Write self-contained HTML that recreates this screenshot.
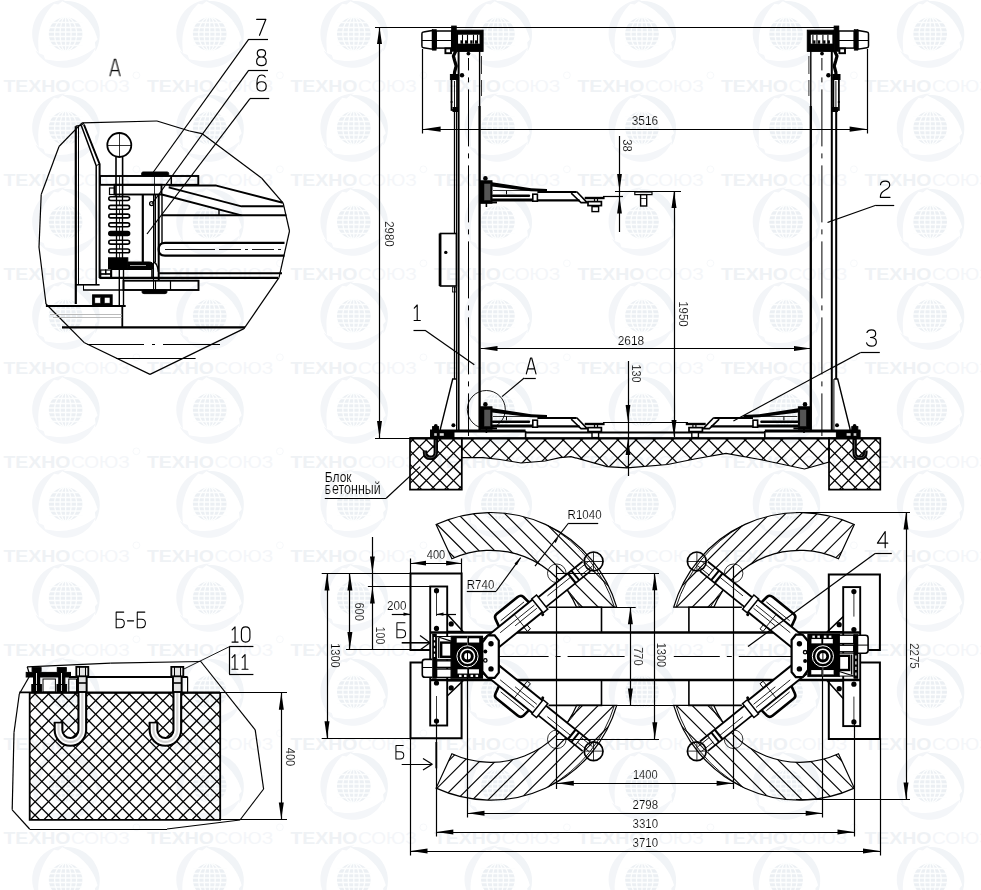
<!DOCTYPE html>
<html><head><meta charset="utf-8"><title>drawing</title>
<style>html,body{margin:0;padding:0;background:#fff;}svg{display:block;}text{font-family:"Liberation Sans",sans-serif;}</style>
</head><body>
<svg width="981" height="890" viewBox="0 0 981 890" font-family="Liberation Sans, sans-serif" fill="#000" shape-rendering="geometricPrecision">
<rect width="981" height="890" fill="#fff"/>
<g id="wm">
<defs><g id="gl">
<path d="M-2.9 -32.9 L1.1 -33.1 L5.1 -32.8 L9.1 -32.0 L12.9 -30.7 L16.6 -29.0 L20.0 -26.9 L23.2 -24.3 L26.0 -21.4 L28.5 -18.1 L30.5 -14.6 L32.1 -10.8 L33.3 -6.9 L34.0 -2.8 L34.1 1.3 L33.8 5.5 L33.0 9.5 L31.7 13.5 L29.9 17.2 L29.6 17.1 L29.9 12.7 L29.3 8.5 L32.0 5.2 L30.7 1.2 L29.3 -2.4 L27.8 -5.7 L26.0 -8.8 L24.2 -11.6 L22.3 -14.2 L20.2 -16.6 L18.0 -18.9 L15.7 -21.1 L13.3 -23.2 L10.6 -25.2 L7.7 -27.1 L4.5 -28.9 L1.0 -30.6 L-2.8 -32.6 Z" fill="#f1f4f7"/>
<path d="M29.9 13.9 L28.1 17.5 L25.8 20.8 L23.2 23.9 L20.2 26.5 L16.8 28.9 L13.3 30.8 L9.5 32.2 L5.5 33.2 L1.5 33.7 L-2.6 33.7 L-6.7 33.2 L-10.7 32.3 L-14.6 30.8 L-18.2 28.9 L-21.6 26.6 L-24.7 23.8 L-27.5 20.7 L-29.9 17.2 L-29.6 17.1 L-26.0 19.5 L-22.0 21.1 L-20.5 25.2 L-16.4 26.0 L-12.6 26.6 L-8.9 26.9 L-5.4 26.9 L-2.1 26.8 L1.2 26.4 L4.3 25.8 L7.4 25.1 L10.4 24.2 L13.5 23.1 L16.6 21.8 L19.7 20.2 L22.8 18.4 L26.0 16.2 L29.6 13.8 Z" fill="#f4f6f9"/>
<path d="M-27.0 18.9 L-29.2 15.6 L-30.9 11.9 L-32.2 8.1 L-33.1 4.2 L-33.4 0.2 L-33.3 -3.9 L-32.6 -7.9 L-31.5 -11.8 L-29.9 -15.6 L-27.9 -19.1 L-25.4 -22.4 L-22.6 -25.4 L-19.4 -28.0 L-15.9 -30.2 L-12.2 -32.0 L-8.2 -33.3 L-4.2 -34.2 L-0.0 -34.5 L-0.0 -34.2 L-3.9 -32.3 L-7.3 -29.6 L-11.5 -30.3 L-14.3 -27.2 L-16.8 -24.2 L-18.8 -21.2 L-20.6 -18.2 L-22.1 -15.2 L-23.4 -12.2 L-24.5 -9.2 L-25.4 -6.2 L-26.2 -3.1 L-26.8 0.1 L-27.2 3.4 L-27.4 6.9 L-27.3 10.5 L-27.1 14.4 L-26.8 18.8 Z" fill="#f3f5f8"/>
<circle r="16.8" fill="#ebeff3"/>
<line x1="-17" x2="17" y1="-11.5" y2="-11.5" stroke="#fdfefe" stroke-width="1.5"/>
<line x1="-17" x2="17" y1="-6.5" y2="-6.5" stroke="#fdfefe" stroke-width="1.5"/>
<line x1="-17" x2="17" y1="-2" y2="-2" stroke="#fdfefe" stroke-width="1.5"/>
<line x1="-17" x2="17" y1="2.6" y2="2.6" stroke="#fdfefe" stroke-width="1.5"/>
<line x1="-17" x2="17" y1="7" y2="7" stroke="#fdfefe" stroke-width="1.5"/>
<line x1="-17" x2="17" y1="11.5" y2="11.5" stroke="#fdfefe" stroke-width="1.5"/>
<line x1="0" x2="0" y1="-17" y2="17" stroke="#fdfefe" stroke-width="1.3"/>
<ellipse rx="5.5" ry="16.8" fill="none" stroke="#fdfefe" stroke-width="1.3"/>
<ellipse rx="11" ry="16.8" fill="none" stroke="#fdfefe" stroke-width="1.3"/>
</g></defs>
<use href="#gl" x="65.6" y="34.0"/>
<use href="#gl" x="209.7" y="34.0"/>
<use href="#gl" x="353.8" y="34.0"/>
<use href="#gl" x="497.9" y="34.0"/>
<use href="#gl" x="642.0" y="34.0"/>
<use href="#gl" x="786.1" y="34.0"/>
<use href="#gl" x="930.2" y="34.0"/>
<use href="#gl" x="1074.3" y="34.0"/>
<use href="#gl" x="65.6" y="128.0"/>
<use href="#gl" x="209.7" y="128.0"/>
<use href="#gl" x="353.8" y="128.0"/>
<use href="#gl" x="497.9" y="128.0"/>
<use href="#gl" x="642.0" y="128.0"/>
<use href="#gl" x="786.1" y="128.0"/>
<use href="#gl" x="930.2" y="128.0"/>
<use href="#gl" x="1074.3" y="128.0"/>
<use href="#gl" x="65.6" y="222.0"/>
<use href="#gl" x="209.7" y="222.0"/>
<use href="#gl" x="353.8" y="222.0"/>
<use href="#gl" x="497.9" y="222.0"/>
<use href="#gl" x="642.0" y="222.0"/>
<use href="#gl" x="786.1" y="222.0"/>
<use href="#gl" x="930.2" y="222.0"/>
<use href="#gl" x="1074.3" y="222.0"/>
<use href="#gl" x="65.6" y="316.0"/>
<use href="#gl" x="209.7" y="316.0"/>
<use href="#gl" x="353.8" y="316.0"/>
<use href="#gl" x="497.9" y="316.0"/>
<use href="#gl" x="642.0" y="316.0"/>
<use href="#gl" x="786.1" y="316.0"/>
<use href="#gl" x="930.2" y="316.0"/>
<use href="#gl" x="1074.3" y="316.0"/>
<use href="#gl" x="65.6" y="410.0"/>
<use href="#gl" x="209.7" y="410.0"/>
<use href="#gl" x="353.8" y="410.0"/>
<use href="#gl" x="497.9" y="410.0"/>
<use href="#gl" x="642.0" y="410.0"/>
<use href="#gl" x="786.1" y="410.0"/>
<use href="#gl" x="930.2" y="410.0"/>
<use href="#gl" x="1074.3" y="410.0"/>
<use href="#gl" x="65.6" y="504.0"/>
<use href="#gl" x="209.7" y="504.0"/>
<use href="#gl" x="353.8" y="504.0"/>
<use href="#gl" x="497.9" y="504.0"/>
<use href="#gl" x="642.0" y="504.0"/>
<use href="#gl" x="786.1" y="504.0"/>
<use href="#gl" x="930.2" y="504.0"/>
<use href="#gl" x="1074.3" y="504.0"/>
<use href="#gl" x="65.6" y="598.0"/>
<use href="#gl" x="209.7" y="598.0"/>
<use href="#gl" x="353.8" y="598.0"/>
<use href="#gl" x="497.9" y="598.0"/>
<use href="#gl" x="642.0" y="598.0"/>
<use href="#gl" x="786.1" y="598.0"/>
<use href="#gl" x="930.2" y="598.0"/>
<use href="#gl" x="1074.3" y="598.0"/>
<use href="#gl" x="65.6" y="692.0"/>
<use href="#gl" x="209.7" y="692.0"/>
<use href="#gl" x="353.8" y="692.0"/>
<use href="#gl" x="497.9" y="692.0"/>
<use href="#gl" x="642.0" y="692.0"/>
<use href="#gl" x="786.1" y="692.0"/>
<use href="#gl" x="930.2" y="692.0"/>
<use href="#gl" x="1074.3" y="692.0"/>
<use href="#gl" x="65.6" y="786.0"/>
<use href="#gl" x="209.7" y="786.0"/>
<use href="#gl" x="353.8" y="786.0"/>
<use href="#gl" x="497.9" y="786.0"/>
<use href="#gl" x="642.0" y="786.0"/>
<use href="#gl" x="786.1" y="786.0"/>
<use href="#gl" x="930.2" y="786.0"/>
<use href="#gl" x="1074.3" y="786.0"/>
<use href="#gl" x="65.6" y="880.0"/>
<use href="#gl" x="209.7" y="880.0"/>
<use href="#gl" x="353.8" y="880.0"/>
<use href="#gl" x="497.9" y="880.0"/>
<use href="#gl" x="642.0" y="880.0"/>
<use href="#gl" x="786.1" y="880.0"/>
<use href="#gl" x="930.2" y="880.0"/>
<use href="#gl" x="1074.3" y="880.0"/>
<text x="-140.1" y="92.3" font-size="17.4" font-weight="bold" fill="#eff2f5" textLength="67" lengthAdjust="spacingAndGlyphs">ТЕХНО</text>
<text x="-72.6" y="92.3" font-size="17.4" fill="#f4f6f9" textLength="59" lengthAdjust="spacingAndGlyphs">СОЮЗ</text>
<circle cx="-7.1" cy="75.3" r="3.4" fill="none" stroke="#f5f7f9" stroke-width="0.9"/>
<text x="3.4" y="92.3" font-size="17.4" font-weight="bold" fill="#eff2f5" textLength="67" lengthAdjust="spacingAndGlyphs">ТЕХНО</text>
<text x="70.9" y="92.3" font-size="17.4" fill="#f4f6f9" textLength="59" lengthAdjust="spacingAndGlyphs">СОЮЗ</text>
<circle cx="136.4" cy="75.3" r="3.4" fill="none" stroke="#f5f7f9" stroke-width="0.9"/>
<text x="146.9" y="92.3" font-size="17.4" font-weight="bold" fill="#eff2f5" textLength="67" lengthAdjust="spacingAndGlyphs">ТЕХНО</text>
<text x="214.4" y="92.3" font-size="17.4" fill="#f4f6f9" textLength="59" lengthAdjust="spacingAndGlyphs">СОЮЗ</text>
<circle cx="279.9" cy="75.3" r="3.4" fill="none" stroke="#f5f7f9" stroke-width="0.9"/>
<text x="290.4" y="92.3" font-size="17.4" font-weight="bold" fill="#eff2f5" textLength="67" lengthAdjust="spacingAndGlyphs">ТЕХНО</text>
<text x="357.9" y="92.3" font-size="17.4" fill="#f4f6f9" textLength="59" lengthAdjust="spacingAndGlyphs">СОЮЗ</text>
<circle cx="423.4" cy="75.3" r="3.4" fill="none" stroke="#f5f7f9" stroke-width="0.9"/>
<text x="433.9" y="92.3" font-size="17.4" font-weight="bold" fill="#eff2f5" textLength="67" lengthAdjust="spacingAndGlyphs">ТЕХНО</text>
<text x="501.4" y="92.3" font-size="17.4" fill="#f4f6f9" textLength="59" lengthAdjust="spacingAndGlyphs">СОЮЗ</text>
<circle cx="566.9" cy="75.3" r="3.4" fill="none" stroke="#f5f7f9" stroke-width="0.9"/>
<text x="577.4" y="92.3" font-size="17.4" font-weight="bold" fill="#eff2f5" textLength="67" lengthAdjust="spacingAndGlyphs">ТЕХНО</text>
<text x="644.9" y="92.3" font-size="17.4" fill="#f4f6f9" textLength="59" lengthAdjust="spacingAndGlyphs">СОЮЗ</text>
<circle cx="710.4" cy="75.3" r="3.4" fill="none" stroke="#f5f7f9" stroke-width="0.9"/>
<text x="720.9" y="92.3" font-size="17.4" font-weight="bold" fill="#eff2f5" textLength="67" lengthAdjust="spacingAndGlyphs">ТЕХНО</text>
<text x="788.4" y="92.3" font-size="17.4" fill="#f4f6f9" textLength="59" lengthAdjust="spacingAndGlyphs">СОЮЗ</text>
<circle cx="853.9" cy="75.3" r="3.4" fill="none" stroke="#f5f7f9" stroke-width="0.9"/>
<text x="864.4" y="92.3" font-size="17.4" font-weight="bold" fill="#eff2f5" textLength="67" lengthAdjust="spacingAndGlyphs">ТЕХНО</text>
<text x="931.9" y="92.3" font-size="17.4" fill="#f4f6f9" textLength="59" lengthAdjust="spacingAndGlyphs">СОЮЗ</text>
<circle cx="997.4" cy="75.3" r="3.4" fill="none" stroke="#f5f7f9" stroke-width="0.9"/>
<text x="1007.9" y="92.3" font-size="17.4" font-weight="bold" fill="#eff2f5" textLength="67" lengthAdjust="spacingAndGlyphs">ТЕХНО</text>
<text x="1075.4" y="92.3" font-size="17.4" fill="#f4f6f9" textLength="59" lengthAdjust="spacingAndGlyphs">СОЮЗ</text>
<circle cx="1140.9" cy="75.3" r="3.4" fill="none" stroke="#f5f7f9" stroke-width="0.9"/>
<text x="-140.1" y="186.3" font-size="17.4" font-weight="bold" fill="#eff2f5" textLength="67" lengthAdjust="spacingAndGlyphs">ТЕХНО</text>
<text x="-72.6" y="186.3" font-size="17.4" fill="#f4f6f9" textLength="59" lengthAdjust="spacingAndGlyphs">СОЮЗ</text>
<circle cx="-7.1" cy="169.3" r="3.4" fill="none" stroke="#f5f7f9" stroke-width="0.9"/>
<text x="3.4" y="186.3" font-size="17.4" font-weight="bold" fill="#eff2f5" textLength="67" lengthAdjust="spacingAndGlyphs">ТЕХНО</text>
<text x="70.9" y="186.3" font-size="17.4" fill="#f4f6f9" textLength="59" lengthAdjust="spacingAndGlyphs">СОЮЗ</text>
<circle cx="136.4" cy="169.3" r="3.4" fill="none" stroke="#f5f7f9" stroke-width="0.9"/>
<text x="146.9" y="186.3" font-size="17.4" font-weight="bold" fill="#eff2f5" textLength="67" lengthAdjust="spacingAndGlyphs">ТЕХНО</text>
<text x="214.4" y="186.3" font-size="17.4" fill="#f4f6f9" textLength="59" lengthAdjust="spacingAndGlyphs">СОЮЗ</text>
<circle cx="279.9" cy="169.3" r="3.4" fill="none" stroke="#f5f7f9" stroke-width="0.9"/>
<text x="290.4" y="186.3" font-size="17.4" font-weight="bold" fill="#eff2f5" textLength="67" lengthAdjust="spacingAndGlyphs">ТЕХНО</text>
<text x="357.9" y="186.3" font-size="17.4" fill="#f4f6f9" textLength="59" lengthAdjust="spacingAndGlyphs">СОЮЗ</text>
<circle cx="423.4" cy="169.3" r="3.4" fill="none" stroke="#f5f7f9" stroke-width="0.9"/>
<text x="433.9" y="186.3" font-size="17.4" font-weight="bold" fill="#eff2f5" textLength="67" lengthAdjust="spacingAndGlyphs">ТЕХНО</text>
<text x="501.4" y="186.3" font-size="17.4" fill="#f4f6f9" textLength="59" lengthAdjust="spacingAndGlyphs">СОЮЗ</text>
<circle cx="566.9" cy="169.3" r="3.4" fill="none" stroke="#f5f7f9" stroke-width="0.9"/>
<text x="577.4" y="186.3" font-size="17.4" font-weight="bold" fill="#eff2f5" textLength="67" lengthAdjust="spacingAndGlyphs">ТЕХНО</text>
<text x="644.9" y="186.3" font-size="17.4" fill="#f4f6f9" textLength="59" lengthAdjust="spacingAndGlyphs">СОЮЗ</text>
<circle cx="710.4" cy="169.3" r="3.4" fill="none" stroke="#f5f7f9" stroke-width="0.9"/>
<text x="720.9" y="186.3" font-size="17.4" font-weight="bold" fill="#eff2f5" textLength="67" lengthAdjust="spacingAndGlyphs">ТЕХНО</text>
<text x="788.4" y="186.3" font-size="17.4" fill="#f4f6f9" textLength="59" lengthAdjust="spacingAndGlyphs">СОЮЗ</text>
<circle cx="853.9" cy="169.3" r="3.4" fill="none" stroke="#f5f7f9" stroke-width="0.9"/>
<text x="864.4" y="186.3" font-size="17.4" font-weight="bold" fill="#eff2f5" textLength="67" lengthAdjust="spacingAndGlyphs">ТЕХНО</text>
<text x="931.9" y="186.3" font-size="17.4" fill="#f4f6f9" textLength="59" lengthAdjust="spacingAndGlyphs">СОЮЗ</text>
<circle cx="997.4" cy="169.3" r="3.4" fill="none" stroke="#f5f7f9" stroke-width="0.9"/>
<text x="1007.9" y="186.3" font-size="17.4" font-weight="bold" fill="#eff2f5" textLength="67" lengthAdjust="spacingAndGlyphs">ТЕХНО</text>
<text x="1075.4" y="186.3" font-size="17.4" fill="#f4f6f9" textLength="59" lengthAdjust="spacingAndGlyphs">СОЮЗ</text>
<circle cx="1140.9" cy="169.3" r="3.4" fill="none" stroke="#f5f7f9" stroke-width="0.9"/>
<text x="-140.1" y="280.3" font-size="17.4" font-weight="bold" fill="#eff2f5" textLength="67" lengthAdjust="spacingAndGlyphs">ТЕХНО</text>
<text x="-72.6" y="280.3" font-size="17.4" fill="#f4f6f9" textLength="59" lengthAdjust="spacingAndGlyphs">СОЮЗ</text>
<circle cx="-7.1" cy="263.3" r="3.4" fill="none" stroke="#f5f7f9" stroke-width="0.9"/>
<text x="3.4" y="280.3" font-size="17.4" font-weight="bold" fill="#eff2f5" textLength="67" lengthAdjust="spacingAndGlyphs">ТЕХНО</text>
<text x="70.9" y="280.3" font-size="17.4" fill="#f4f6f9" textLength="59" lengthAdjust="spacingAndGlyphs">СОЮЗ</text>
<circle cx="136.4" cy="263.3" r="3.4" fill="none" stroke="#f5f7f9" stroke-width="0.9"/>
<text x="146.9" y="280.3" font-size="17.4" font-weight="bold" fill="#eff2f5" textLength="67" lengthAdjust="spacingAndGlyphs">ТЕХНО</text>
<text x="214.4" y="280.3" font-size="17.4" fill="#f4f6f9" textLength="59" lengthAdjust="spacingAndGlyphs">СОЮЗ</text>
<circle cx="279.9" cy="263.3" r="3.4" fill="none" stroke="#f5f7f9" stroke-width="0.9"/>
<text x="290.4" y="280.3" font-size="17.4" font-weight="bold" fill="#eff2f5" textLength="67" lengthAdjust="spacingAndGlyphs">ТЕХНО</text>
<text x="357.9" y="280.3" font-size="17.4" fill="#f4f6f9" textLength="59" lengthAdjust="spacingAndGlyphs">СОЮЗ</text>
<circle cx="423.4" cy="263.3" r="3.4" fill="none" stroke="#f5f7f9" stroke-width="0.9"/>
<text x="433.9" y="280.3" font-size="17.4" font-weight="bold" fill="#eff2f5" textLength="67" lengthAdjust="spacingAndGlyphs">ТЕХНО</text>
<text x="501.4" y="280.3" font-size="17.4" fill="#f4f6f9" textLength="59" lengthAdjust="spacingAndGlyphs">СОЮЗ</text>
<circle cx="566.9" cy="263.3" r="3.4" fill="none" stroke="#f5f7f9" stroke-width="0.9"/>
<text x="577.4" y="280.3" font-size="17.4" font-weight="bold" fill="#eff2f5" textLength="67" lengthAdjust="spacingAndGlyphs">ТЕХНО</text>
<text x="644.9" y="280.3" font-size="17.4" fill="#f4f6f9" textLength="59" lengthAdjust="spacingAndGlyphs">СОЮЗ</text>
<circle cx="710.4" cy="263.3" r="3.4" fill="none" stroke="#f5f7f9" stroke-width="0.9"/>
<text x="720.9" y="280.3" font-size="17.4" font-weight="bold" fill="#eff2f5" textLength="67" lengthAdjust="spacingAndGlyphs">ТЕХНО</text>
<text x="788.4" y="280.3" font-size="17.4" fill="#f4f6f9" textLength="59" lengthAdjust="spacingAndGlyphs">СОЮЗ</text>
<circle cx="853.9" cy="263.3" r="3.4" fill="none" stroke="#f5f7f9" stroke-width="0.9"/>
<text x="864.4" y="280.3" font-size="17.4" font-weight="bold" fill="#eff2f5" textLength="67" lengthAdjust="spacingAndGlyphs">ТЕХНО</text>
<text x="931.9" y="280.3" font-size="17.4" fill="#f4f6f9" textLength="59" lengthAdjust="spacingAndGlyphs">СОЮЗ</text>
<circle cx="997.4" cy="263.3" r="3.4" fill="none" stroke="#f5f7f9" stroke-width="0.9"/>
<text x="1007.9" y="280.3" font-size="17.4" font-weight="bold" fill="#eff2f5" textLength="67" lengthAdjust="spacingAndGlyphs">ТЕХНО</text>
<text x="1075.4" y="280.3" font-size="17.4" fill="#f4f6f9" textLength="59" lengthAdjust="spacingAndGlyphs">СОЮЗ</text>
<circle cx="1140.9" cy="263.3" r="3.4" fill="none" stroke="#f5f7f9" stroke-width="0.9"/>
<text x="-140.1" y="374.3" font-size="17.4" font-weight="bold" fill="#eff2f5" textLength="67" lengthAdjust="spacingAndGlyphs">ТЕХНО</text>
<text x="-72.6" y="374.3" font-size="17.4" fill="#f4f6f9" textLength="59" lengthAdjust="spacingAndGlyphs">СОЮЗ</text>
<circle cx="-7.1" cy="357.3" r="3.4" fill="none" stroke="#f5f7f9" stroke-width="0.9"/>
<text x="3.4" y="374.3" font-size="17.4" font-weight="bold" fill="#eff2f5" textLength="67" lengthAdjust="spacingAndGlyphs">ТЕХНО</text>
<text x="70.9" y="374.3" font-size="17.4" fill="#f4f6f9" textLength="59" lengthAdjust="spacingAndGlyphs">СОЮЗ</text>
<circle cx="136.4" cy="357.3" r="3.4" fill="none" stroke="#f5f7f9" stroke-width="0.9"/>
<text x="146.9" y="374.3" font-size="17.4" font-weight="bold" fill="#eff2f5" textLength="67" lengthAdjust="spacingAndGlyphs">ТЕХНО</text>
<text x="214.4" y="374.3" font-size="17.4" fill="#f4f6f9" textLength="59" lengthAdjust="spacingAndGlyphs">СОЮЗ</text>
<circle cx="279.9" cy="357.3" r="3.4" fill="none" stroke="#f5f7f9" stroke-width="0.9"/>
<text x="290.4" y="374.3" font-size="17.4" font-weight="bold" fill="#eff2f5" textLength="67" lengthAdjust="spacingAndGlyphs">ТЕХНО</text>
<text x="357.9" y="374.3" font-size="17.4" fill="#f4f6f9" textLength="59" lengthAdjust="spacingAndGlyphs">СОЮЗ</text>
<circle cx="423.4" cy="357.3" r="3.4" fill="none" stroke="#f5f7f9" stroke-width="0.9"/>
<text x="433.9" y="374.3" font-size="17.4" font-weight="bold" fill="#eff2f5" textLength="67" lengthAdjust="spacingAndGlyphs">ТЕХНО</text>
<text x="501.4" y="374.3" font-size="17.4" fill="#f4f6f9" textLength="59" lengthAdjust="spacingAndGlyphs">СОЮЗ</text>
<circle cx="566.9" cy="357.3" r="3.4" fill="none" stroke="#f5f7f9" stroke-width="0.9"/>
<text x="577.4" y="374.3" font-size="17.4" font-weight="bold" fill="#eff2f5" textLength="67" lengthAdjust="spacingAndGlyphs">ТЕХНО</text>
<text x="644.9" y="374.3" font-size="17.4" fill="#f4f6f9" textLength="59" lengthAdjust="spacingAndGlyphs">СОЮЗ</text>
<circle cx="710.4" cy="357.3" r="3.4" fill="none" stroke="#f5f7f9" stroke-width="0.9"/>
<text x="720.9" y="374.3" font-size="17.4" font-weight="bold" fill="#eff2f5" textLength="67" lengthAdjust="spacingAndGlyphs">ТЕХНО</text>
<text x="788.4" y="374.3" font-size="17.4" fill="#f4f6f9" textLength="59" lengthAdjust="spacingAndGlyphs">СОЮЗ</text>
<circle cx="853.9" cy="357.3" r="3.4" fill="none" stroke="#f5f7f9" stroke-width="0.9"/>
<text x="864.4" y="374.3" font-size="17.4" font-weight="bold" fill="#eff2f5" textLength="67" lengthAdjust="spacingAndGlyphs">ТЕХНО</text>
<text x="931.9" y="374.3" font-size="17.4" fill="#f4f6f9" textLength="59" lengthAdjust="spacingAndGlyphs">СОЮЗ</text>
<circle cx="997.4" cy="357.3" r="3.4" fill="none" stroke="#f5f7f9" stroke-width="0.9"/>
<text x="1007.9" y="374.3" font-size="17.4" font-weight="bold" fill="#eff2f5" textLength="67" lengthAdjust="spacingAndGlyphs">ТЕХНО</text>
<text x="1075.4" y="374.3" font-size="17.4" fill="#f4f6f9" textLength="59" lengthAdjust="spacingAndGlyphs">СОЮЗ</text>
<circle cx="1140.9" cy="357.3" r="3.4" fill="none" stroke="#f5f7f9" stroke-width="0.9"/>
<text x="-140.1" y="468.3" font-size="17.4" font-weight="bold" fill="#eff2f5" textLength="67" lengthAdjust="spacingAndGlyphs">ТЕХНО</text>
<text x="-72.6" y="468.3" font-size="17.4" fill="#f4f6f9" textLength="59" lengthAdjust="spacingAndGlyphs">СОЮЗ</text>
<circle cx="-7.1" cy="451.3" r="3.4" fill="none" stroke="#f5f7f9" stroke-width="0.9"/>
<text x="3.4" y="468.3" font-size="17.4" font-weight="bold" fill="#eff2f5" textLength="67" lengthAdjust="spacingAndGlyphs">ТЕХНО</text>
<text x="70.9" y="468.3" font-size="17.4" fill="#f4f6f9" textLength="59" lengthAdjust="spacingAndGlyphs">СОЮЗ</text>
<circle cx="136.4" cy="451.3" r="3.4" fill="none" stroke="#f5f7f9" stroke-width="0.9"/>
<text x="146.9" y="468.3" font-size="17.4" font-weight="bold" fill="#eff2f5" textLength="67" lengthAdjust="spacingAndGlyphs">ТЕХНО</text>
<text x="214.4" y="468.3" font-size="17.4" fill="#f4f6f9" textLength="59" lengthAdjust="spacingAndGlyphs">СОЮЗ</text>
<circle cx="279.9" cy="451.3" r="3.4" fill="none" stroke="#f5f7f9" stroke-width="0.9"/>
<text x="290.4" y="468.3" font-size="17.4" font-weight="bold" fill="#eff2f5" textLength="67" lengthAdjust="spacingAndGlyphs">ТЕХНО</text>
<text x="357.9" y="468.3" font-size="17.4" fill="#f4f6f9" textLength="59" lengthAdjust="spacingAndGlyphs">СОЮЗ</text>
<circle cx="423.4" cy="451.3" r="3.4" fill="none" stroke="#f5f7f9" stroke-width="0.9"/>
<text x="433.9" y="468.3" font-size="17.4" font-weight="bold" fill="#eff2f5" textLength="67" lengthAdjust="spacingAndGlyphs">ТЕХНО</text>
<text x="501.4" y="468.3" font-size="17.4" fill="#f4f6f9" textLength="59" lengthAdjust="spacingAndGlyphs">СОЮЗ</text>
<circle cx="566.9" cy="451.3" r="3.4" fill="none" stroke="#f5f7f9" stroke-width="0.9"/>
<text x="577.4" y="468.3" font-size="17.4" font-weight="bold" fill="#eff2f5" textLength="67" lengthAdjust="spacingAndGlyphs">ТЕХНО</text>
<text x="644.9" y="468.3" font-size="17.4" fill="#f4f6f9" textLength="59" lengthAdjust="spacingAndGlyphs">СОЮЗ</text>
<circle cx="710.4" cy="451.3" r="3.4" fill="none" stroke="#f5f7f9" stroke-width="0.9"/>
<text x="720.9" y="468.3" font-size="17.4" font-weight="bold" fill="#eff2f5" textLength="67" lengthAdjust="spacingAndGlyphs">ТЕХНО</text>
<text x="788.4" y="468.3" font-size="17.4" fill="#f4f6f9" textLength="59" lengthAdjust="spacingAndGlyphs">СОЮЗ</text>
<circle cx="853.9" cy="451.3" r="3.4" fill="none" stroke="#f5f7f9" stroke-width="0.9"/>
<text x="864.4" y="468.3" font-size="17.4" font-weight="bold" fill="#eff2f5" textLength="67" lengthAdjust="spacingAndGlyphs">ТЕХНО</text>
<text x="931.9" y="468.3" font-size="17.4" fill="#f4f6f9" textLength="59" lengthAdjust="spacingAndGlyphs">СОЮЗ</text>
<circle cx="997.4" cy="451.3" r="3.4" fill="none" stroke="#f5f7f9" stroke-width="0.9"/>
<text x="1007.9" y="468.3" font-size="17.4" font-weight="bold" fill="#eff2f5" textLength="67" lengthAdjust="spacingAndGlyphs">ТЕХНО</text>
<text x="1075.4" y="468.3" font-size="17.4" fill="#f4f6f9" textLength="59" lengthAdjust="spacingAndGlyphs">СОЮЗ</text>
<circle cx="1140.9" cy="451.3" r="3.4" fill="none" stroke="#f5f7f9" stroke-width="0.9"/>
<text x="-140.1" y="562.3" font-size="17.4" font-weight="bold" fill="#eff2f5" textLength="67" lengthAdjust="spacingAndGlyphs">ТЕХНО</text>
<text x="-72.6" y="562.3" font-size="17.4" fill="#f4f6f9" textLength="59" lengthAdjust="spacingAndGlyphs">СОЮЗ</text>
<circle cx="-7.1" cy="545.3" r="3.4" fill="none" stroke="#f5f7f9" stroke-width="0.9"/>
<text x="3.4" y="562.3" font-size="17.4" font-weight="bold" fill="#eff2f5" textLength="67" lengthAdjust="spacingAndGlyphs">ТЕХНО</text>
<text x="70.9" y="562.3" font-size="17.4" fill="#f4f6f9" textLength="59" lengthAdjust="spacingAndGlyphs">СОЮЗ</text>
<circle cx="136.4" cy="545.3" r="3.4" fill="none" stroke="#f5f7f9" stroke-width="0.9"/>
<text x="146.9" y="562.3" font-size="17.4" font-weight="bold" fill="#eff2f5" textLength="67" lengthAdjust="spacingAndGlyphs">ТЕХНО</text>
<text x="214.4" y="562.3" font-size="17.4" fill="#f4f6f9" textLength="59" lengthAdjust="spacingAndGlyphs">СОЮЗ</text>
<circle cx="279.9" cy="545.3" r="3.4" fill="none" stroke="#f5f7f9" stroke-width="0.9"/>
<text x="290.4" y="562.3" font-size="17.4" font-weight="bold" fill="#eff2f5" textLength="67" lengthAdjust="spacingAndGlyphs">ТЕХНО</text>
<text x="357.9" y="562.3" font-size="17.4" fill="#f4f6f9" textLength="59" lengthAdjust="spacingAndGlyphs">СОЮЗ</text>
<circle cx="423.4" cy="545.3" r="3.4" fill="none" stroke="#f5f7f9" stroke-width="0.9"/>
<text x="433.9" y="562.3" font-size="17.4" font-weight="bold" fill="#eff2f5" textLength="67" lengthAdjust="spacingAndGlyphs">ТЕХНО</text>
<text x="501.4" y="562.3" font-size="17.4" fill="#f4f6f9" textLength="59" lengthAdjust="spacingAndGlyphs">СОЮЗ</text>
<circle cx="566.9" cy="545.3" r="3.4" fill="none" stroke="#f5f7f9" stroke-width="0.9"/>
<text x="577.4" y="562.3" font-size="17.4" font-weight="bold" fill="#eff2f5" textLength="67" lengthAdjust="spacingAndGlyphs">ТЕХНО</text>
<text x="644.9" y="562.3" font-size="17.4" fill="#f4f6f9" textLength="59" lengthAdjust="spacingAndGlyphs">СОЮЗ</text>
<circle cx="710.4" cy="545.3" r="3.4" fill="none" stroke="#f5f7f9" stroke-width="0.9"/>
<text x="720.9" y="562.3" font-size="17.4" font-weight="bold" fill="#eff2f5" textLength="67" lengthAdjust="spacingAndGlyphs">ТЕХНО</text>
<text x="788.4" y="562.3" font-size="17.4" fill="#f4f6f9" textLength="59" lengthAdjust="spacingAndGlyphs">СОЮЗ</text>
<circle cx="853.9" cy="545.3" r="3.4" fill="none" stroke="#f5f7f9" stroke-width="0.9"/>
<text x="864.4" y="562.3" font-size="17.4" font-weight="bold" fill="#eff2f5" textLength="67" lengthAdjust="spacingAndGlyphs">ТЕХНО</text>
<text x="931.9" y="562.3" font-size="17.4" fill="#f4f6f9" textLength="59" lengthAdjust="spacingAndGlyphs">СОЮЗ</text>
<circle cx="997.4" cy="545.3" r="3.4" fill="none" stroke="#f5f7f9" stroke-width="0.9"/>
<text x="1007.9" y="562.3" font-size="17.4" font-weight="bold" fill="#eff2f5" textLength="67" lengthAdjust="spacingAndGlyphs">ТЕХНО</text>
<text x="1075.4" y="562.3" font-size="17.4" fill="#f4f6f9" textLength="59" lengthAdjust="spacingAndGlyphs">СОЮЗ</text>
<circle cx="1140.9" cy="545.3" r="3.4" fill="none" stroke="#f5f7f9" stroke-width="0.9"/>
<text x="-140.1" y="656.3" font-size="17.4" font-weight="bold" fill="#eff2f5" textLength="67" lengthAdjust="spacingAndGlyphs">ТЕХНО</text>
<text x="-72.6" y="656.3" font-size="17.4" fill="#f4f6f9" textLength="59" lengthAdjust="spacingAndGlyphs">СОЮЗ</text>
<circle cx="-7.1" cy="639.3" r="3.4" fill="none" stroke="#f5f7f9" stroke-width="0.9"/>
<text x="3.4" y="656.3" font-size="17.4" font-weight="bold" fill="#eff2f5" textLength="67" lengthAdjust="spacingAndGlyphs">ТЕХНО</text>
<text x="70.9" y="656.3" font-size="17.4" fill="#f4f6f9" textLength="59" lengthAdjust="spacingAndGlyphs">СОЮЗ</text>
<circle cx="136.4" cy="639.3" r="3.4" fill="none" stroke="#f5f7f9" stroke-width="0.9"/>
<text x="146.9" y="656.3" font-size="17.4" font-weight="bold" fill="#eff2f5" textLength="67" lengthAdjust="spacingAndGlyphs">ТЕХНО</text>
<text x="214.4" y="656.3" font-size="17.4" fill="#f4f6f9" textLength="59" lengthAdjust="spacingAndGlyphs">СОЮЗ</text>
<circle cx="279.9" cy="639.3" r="3.4" fill="none" stroke="#f5f7f9" stroke-width="0.9"/>
<text x="290.4" y="656.3" font-size="17.4" font-weight="bold" fill="#eff2f5" textLength="67" lengthAdjust="spacingAndGlyphs">ТЕХНО</text>
<text x="357.9" y="656.3" font-size="17.4" fill="#f4f6f9" textLength="59" lengthAdjust="spacingAndGlyphs">СОЮЗ</text>
<circle cx="423.4" cy="639.3" r="3.4" fill="none" stroke="#f5f7f9" stroke-width="0.9"/>
<text x="433.9" y="656.3" font-size="17.4" font-weight="bold" fill="#eff2f5" textLength="67" lengthAdjust="spacingAndGlyphs">ТЕХНО</text>
<text x="501.4" y="656.3" font-size="17.4" fill="#f4f6f9" textLength="59" lengthAdjust="spacingAndGlyphs">СОЮЗ</text>
<circle cx="566.9" cy="639.3" r="3.4" fill="none" stroke="#f5f7f9" stroke-width="0.9"/>
<text x="577.4" y="656.3" font-size="17.4" font-weight="bold" fill="#eff2f5" textLength="67" lengthAdjust="spacingAndGlyphs">ТЕХНО</text>
<text x="644.9" y="656.3" font-size="17.4" fill="#f4f6f9" textLength="59" lengthAdjust="spacingAndGlyphs">СОЮЗ</text>
<circle cx="710.4" cy="639.3" r="3.4" fill="none" stroke="#f5f7f9" stroke-width="0.9"/>
<text x="720.9" y="656.3" font-size="17.4" font-weight="bold" fill="#eff2f5" textLength="67" lengthAdjust="spacingAndGlyphs">ТЕХНО</text>
<text x="788.4" y="656.3" font-size="17.4" fill="#f4f6f9" textLength="59" lengthAdjust="spacingAndGlyphs">СОЮЗ</text>
<circle cx="853.9" cy="639.3" r="3.4" fill="none" stroke="#f5f7f9" stroke-width="0.9"/>
<text x="864.4" y="656.3" font-size="17.4" font-weight="bold" fill="#eff2f5" textLength="67" lengthAdjust="spacingAndGlyphs">ТЕХНО</text>
<text x="931.9" y="656.3" font-size="17.4" fill="#f4f6f9" textLength="59" lengthAdjust="spacingAndGlyphs">СОЮЗ</text>
<circle cx="997.4" cy="639.3" r="3.4" fill="none" stroke="#f5f7f9" stroke-width="0.9"/>
<text x="1007.9" y="656.3" font-size="17.4" font-weight="bold" fill="#eff2f5" textLength="67" lengthAdjust="spacingAndGlyphs">ТЕХНО</text>
<text x="1075.4" y="656.3" font-size="17.4" fill="#f4f6f9" textLength="59" lengthAdjust="spacingAndGlyphs">СОЮЗ</text>
<circle cx="1140.9" cy="639.3" r="3.4" fill="none" stroke="#f5f7f9" stroke-width="0.9"/>
<text x="-140.1" y="750.3" font-size="17.4" font-weight="bold" fill="#eff2f5" textLength="67" lengthAdjust="spacingAndGlyphs">ТЕХНО</text>
<text x="-72.6" y="750.3" font-size="17.4" fill="#f4f6f9" textLength="59" lengthAdjust="spacingAndGlyphs">СОЮЗ</text>
<circle cx="-7.1" cy="733.3" r="3.4" fill="none" stroke="#f5f7f9" stroke-width="0.9"/>
<text x="3.4" y="750.3" font-size="17.4" font-weight="bold" fill="#eff2f5" textLength="67" lengthAdjust="spacingAndGlyphs">ТЕХНО</text>
<text x="70.9" y="750.3" font-size="17.4" fill="#f4f6f9" textLength="59" lengthAdjust="spacingAndGlyphs">СОЮЗ</text>
<circle cx="136.4" cy="733.3" r="3.4" fill="none" stroke="#f5f7f9" stroke-width="0.9"/>
<text x="146.9" y="750.3" font-size="17.4" font-weight="bold" fill="#eff2f5" textLength="67" lengthAdjust="spacingAndGlyphs">ТЕХНО</text>
<text x="214.4" y="750.3" font-size="17.4" fill="#f4f6f9" textLength="59" lengthAdjust="spacingAndGlyphs">СОЮЗ</text>
<circle cx="279.9" cy="733.3" r="3.4" fill="none" stroke="#f5f7f9" stroke-width="0.9"/>
<text x="290.4" y="750.3" font-size="17.4" font-weight="bold" fill="#eff2f5" textLength="67" lengthAdjust="spacingAndGlyphs">ТЕХНО</text>
<text x="357.9" y="750.3" font-size="17.4" fill="#f4f6f9" textLength="59" lengthAdjust="spacingAndGlyphs">СОЮЗ</text>
<circle cx="423.4" cy="733.3" r="3.4" fill="none" stroke="#f5f7f9" stroke-width="0.9"/>
<text x="433.9" y="750.3" font-size="17.4" font-weight="bold" fill="#eff2f5" textLength="67" lengthAdjust="spacingAndGlyphs">ТЕХНО</text>
<text x="501.4" y="750.3" font-size="17.4" fill="#f4f6f9" textLength="59" lengthAdjust="spacingAndGlyphs">СОЮЗ</text>
<circle cx="566.9" cy="733.3" r="3.4" fill="none" stroke="#f5f7f9" stroke-width="0.9"/>
<text x="577.4" y="750.3" font-size="17.4" font-weight="bold" fill="#eff2f5" textLength="67" lengthAdjust="spacingAndGlyphs">ТЕХНО</text>
<text x="644.9" y="750.3" font-size="17.4" fill="#f4f6f9" textLength="59" lengthAdjust="spacingAndGlyphs">СОЮЗ</text>
<circle cx="710.4" cy="733.3" r="3.4" fill="none" stroke="#f5f7f9" stroke-width="0.9"/>
<text x="720.9" y="750.3" font-size="17.4" font-weight="bold" fill="#eff2f5" textLength="67" lengthAdjust="spacingAndGlyphs">ТЕХНО</text>
<text x="788.4" y="750.3" font-size="17.4" fill="#f4f6f9" textLength="59" lengthAdjust="spacingAndGlyphs">СОЮЗ</text>
<circle cx="853.9" cy="733.3" r="3.4" fill="none" stroke="#f5f7f9" stroke-width="0.9"/>
<text x="864.4" y="750.3" font-size="17.4" font-weight="bold" fill="#eff2f5" textLength="67" lengthAdjust="spacingAndGlyphs">ТЕХНО</text>
<text x="931.9" y="750.3" font-size="17.4" fill="#f4f6f9" textLength="59" lengthAdjust="spacingAndGlyphs">СОЮЗ</text>
<circle cx="997.4" cy="733.3" r="3.4" fill="none" stroke="#f5f7f9" stroke-width="0.9"/>
<text x="1007.9" y="750.3" font-size="17.4" font-weight="bold" fill="#eff2f5" textLength="67" lengthAdjust="spacingAndGlyphs">ТЕХНО</text>
<text x="1075.4" y="750.3" font-size="17.4" fill="#f4f6f9" textLength="59" lengthAdjust="spacingAndGlyphs">СОЮЗ</text>
<circle cx="1140.9" cy="733.3" r="3.4" fill="none" stroke="#f5f7f9" stroke-width="0.9"/>
<text x="-140.1" y="844.3" font-size="17.4" font-weight="bold" fill="#eff2f5" textLength="67" lengthAdjust="spacingAndGlyphs">ТЕХНО</text>
<text x="-72.6" y="844.3" font-size="17.4" fill="#f4f6f9" textLength="59" lengthAdjust="spacingAndGlyphs">СОЮЗ</text>
<circle cx="-7.1" cy="827.3" r="3.4" fill="none" stroke="#f5f7f9" stroke-width="0.9"/>
<text x="3.4" y="844.3" font-size="17.4" font-weight="bold" fill="#eff2f5" textLength="67" lengthAdjust="spacingAndGlyphs">ТЕХНО</text>
<text x="70.9" y="844.3" font-size="17.4" fill="#f4f6f9" textLength="59" lengthAdjust="spacingAndGlyphs">СОЮЗ</text>
<circle cx="136.4" cy="827.3" r="3.4" fill="none" stroke="#f5f7f9" stroke-width="0.9"/>
<text x="146.9" y="844.3" font-size="17.4" font-weight="bold" fill="#eff2f5" textLength="67" lengthAdjust="spacingAndGlyphs">ТЕХНО</text>
<text x="214.4" y="844.3" font-size="17.4" fill="#f4f6f9" textLength="59" lengthAdjust="spacingAndGlyphs">СОЮЗ</text>
<circle cx="279.9" cy="827.3" r="3.4" fill="none" stroke="#f5f7f9" stroke-width="0.9"/>
<text x="290.4" y="844.3" font-size="17.4" font-weight="bold" fill="#eff2f5" textLength="67" lengthAdjust="spacingAndGlyphs">ТЕХНО</text>
<text x="357.9" y="844.3" font-size="17.4" fill="#f4f6f9" textLength="59" lengthAdjust="spacingAndGlyphs">СОЮЗ</text>
<circle cx="423.4" cy="827.3" r="3.4" fill="none" stroke="#f5f7f9" stroke-width="0.9"/>
<text x="433.9" y="844.3" font-size="17.4" font-weight="bold" fill="#eff2f5" textLength="67" lengthAdjust="spacingAndGlyphs">ТЕХНО</text>
<text x="501.4" y="844.3" font-size="17.4" fill="#f4f6f9" textLength="59" lengthAdjust="spacingAndGlyphs">СОЮЗ</text>
<circle cx="566.9" cy="827.3" r="3.4" fill="none" stroke="#f5f7f9" stroke-width="0.9"/>
<text x="577.4" y="844.3" font-size="17.4" font-weight="bold" fill="#eff2f5" textLength="67" lengthAdjust="spacingAndGlyphs">ТЕХНО</text>
<text x="644.9" y="844.3" font-size="17.4" fill="#f4f6f9" textLength="59" lengthAdjust="spacingAndGlyphs">СОЮЗ</text>
<circle cx="710.4" cy="827.3" r="3.4" fill="none" stroke="#f5f7f9" stroke-width="0.9"/>
<text x="720.9" y="844.3" font-size="17.4" font-weight="bold" fill="#eff2f5" textLength="67" lengthAdjust="spacingAndGlyphs">ТЕХНО</text>
<text x="788.4" y="844.3" font-size="17.4" fill="#f4f6f9" textLength="59" lengthAdjust="spacingAndGlyphs">СОЮЗ</text>
<circle cx="853.9" cy="827.3" r="3.4" fill="none" stroke="#f5f7f9" stroke-width="0.9"/>
<text x="864.4" y="844.3" font-size="17.4" font-weight="bold" fill="#eff2f5" textLength="67" lengthAdjust="spacingAndGlyphs">ТЕХНО</text>
<text x="931.9" y="844.3" font-size="17.4" fill="#f4f6f9" textLength="59" lengthAdjust="spacingAndGlyphs">СОЮЗ</text>
<circle cx="997.4" cy="827.3" r="3.4" fill="none" stroke="#f5f7f9" stroke-width="0.9"/>
<text x="1007.9" y="844.3" font-size="17.4" font-weight="bold" fill="#eff2f5" textLength="67" lengthAdjust="spacingAndGlyphs">ТЕХНО</text>
<text x="1075.4" y="844.3" font-size="17.4" fill="#f4f6f9" textLength="59" lengthAdjust="spacingAndGlyphs">СОЮЗ</text>
<circle cx="1140.9" cy="827.3" r="3.4" fill="none" stroke="#f5f7f9" stroke-width="0.9"/>
<text x="-140.1" y="938.3" font-size="17.4" font-weight="bold" fill="#eff2f5" textLength="67" lengthAdjust="spacingAndGlyphs">ТЕХНО</text>
<text x="-72.6" y="938.3" font-size="17.4" fill="#f4f6f9" textLength="59" lengthAdjust="spacingAndGlyphs">СОЮЗ</text>
<circle cx="-7.1" cy="921.3" r="3.4" fill="none" stroke="#f5f7f9" stroke-width="0.9"/>
<text x="3.4" y="938.3" font-size="17.4" font-weight="bold" fill="#eff2f5" textLength="67" lengthAdjust="spacingAndGlyphs">ТЕХНО</text>
<text x="70.9" y="938.3" font-size="17.4" fill="#f4f6f9" textLength="59" lengthAdjust="spacingAndGlyphs">СОЮЗ</text>
<circle cx="136.4" cy="921.3" r="3.4" fill="none" stroke="#f5f7f9" stroke-width="0.9"/>
<text x="146.9" y="938.3" font-size="17.4" font-weight="bold" fill="#eff2f5" textLength="67" lengthAdjust="spacingAndGlyphs">ТЕХНО</text>
<text x="214.4" y="938.3" font-size="17.4" fill="#f4f6f9" textLength="59" lengthAdjust="spacingAndGlyphs">СОЮЗ</text>
<circle cx="279.9" cy="921.3" r="3.4" fill="none" stroke="#f5f7f9" stroke-width="0.9"/>
<text x="290.4" y="938.3" font-size="17.4" font-weight="bold" fill="#eff2f5" textLength="67" lengthAdjust="spacingAndGlyphs">ТЕХНО</text>
<text x="357.9" y="938.3" font-size="17.4" fill="#f4f6f9" textLength="59" lengthAdjust="spacingAndGlyphs">СОЮЗ</text>
<circle cx="423.4" cy="921.3" r="3.4" fill="none" stroke="#f5f7f9" stroke-width="0.9"/>
<text x="433.9" y="938.3" font-size="17.4" font-weight="bold" fill="#eff2f5" textLength="67" lengthAdjust="spacingAndGlyphs">ТЕХНО</text>
<text x="501.4" y="938.3" font-size="17.4" fill="#f4f6f9" textLength="59" lengthAdjust="spacingAndGlyphs">СОЮЗ</text>
<circle cx="566.9" cy="921.3" r="3.4" fill="none" stroke="#f5f7f9" stroke-width="0.9"/>
<text x="577.4" y="938.3" font-size="17.4" font-weight="bold" fill="#eff2f5" textLength="67" lengthAdjust="spacingAndGlyphs">ТЕХНО</text>
<text x="644.9" y="938.3" font-size="17.4" fill="#f4f6f9" textLength="59" lengthAdjust="spacingAndGlyphs">СОЮЗ</text>
<circle cx="710.4" cy="921.3" r="3.4" fill="none" stroke="#f5f7f9" stroke-width="0.9"/>
<text x="720.9" y="938.3" font-size="17.4" font-weight="bold" fill="#eff2f5" textLength="67" lengthAdjust="spacingAndGlyphs">ТЕХНО</text>
<text x="788.4" y="938.3" font-size="17.4" fill="#f4f6f9" textLength="59" lengthAdjust="spacingAndGlyphs">СОЮЗ</text>
<circle cx="853.9" cy="921.3" r="3.4" fill="none" stroke="#f5f7f9" stroke-width="0.9"/>
<text x="864.4" y="938.3" font-size="17.4" font-weight="bold" fill="#eff2f5" textLength="67" lengthAdjust="spacingAndGlyphs">ТЕХНО</text>
<text x="931.9" y="938.3" font-size="17.4" fill="#f4f6f9" textLength="59" lengthAdjust="spacingAndGlyphs">СОЮЗ</text>
<circle cx="997.4" cy="921.3" r="3.4" fill="none" stroke="#f5f7f9" stroke-width="0.9"/>
<text x="1007.9" y="938.3" font-size="17.4" font-weight="bold" fill="#eff2f5" textLength="67" lengthAdjust="spacingAndGlyphs">ТЕХНО</text>
<text x="1075.4" y="938.3" font-size="17.4" fill="#f4f6f9" textLength="59" lengthAdjust="spacingAndGlyphs">СОЮЗ</text>
<circle cx="1140.9" cy="921.3" r="3.4" fill="none" stroke="#f5f7f9" stroke-width="0.9"/>
</g>
<g style="filter:grayscale(1)">
<line x1="375.0" y1="27.5" x2="835.5" y2="27.5" stroke="#000" stroke-width="1.2"/>
<line x1="375.0" y1="438.5" x2="412.0" y2="438.5" stroke="#000" stroke-width="1.2"/>
<line x1="379.5" y1="27.0" x2="379.5" y2="438.0" stroke="#000" stroke-width="1.2"/>
<polygon points="379.5,27.0 382.0,44.0 377.0,44.0" fill="#000"/>
<polygon points="379.5,438.0 377.0,421.0 382.0,421.0" fill="#000"/>
<text x="385.3" y="234.0" font-size="12.8" text-anchor="middle" font-weight="normal" transform="rotate(90 385.3 234.0)" textLength="25.5" lengthAdjust="spacingAndGlyphs" stroke="#fff" stroke-width="0.15">2980</text>
<line x1="422.5" y1="49.0" x2="422.5" y2="133.5" stroke="#000" stroke-width="1.2"/>
<line x1="867.5" y1="49.0" x2="867.5" y2="133.5" stroke="#000" stroke-width="1.2"/>
<line x1="422.6" y1="129.5" x2="867.6" y2="129.5" stroke="#000" stroke-width="1.2"/>
<polygon points="422.6,129.2 440.6,126.6 440.6,131.8" fill="#000"/>
<polygon points="867.6,129.2 849.6,131.8 849.6,126.6" fill="#000"/>
<text x="645.0" y="125.0" font-size="12.8" text-anchor="middle" font-weight="normal" textLength="26.5" lengthAdjust="spacingAndGlyphs" stroke="#fff" stroke-width="0.15">3516</text>
<line x1="480.5" y1="348.5" x2="811.0" y2="348.5" stroke="#000" stroke-width="1.2"/>
<polygon points="480.5,348.5 497.5,346.0 497.5,351.0" fill="#000"/>
<polygon points="811.0,348.5 794.0,351.0 794.0,346.0" fill="#000"/>
<text x="631.0" y="345.0" font-size="12.8" text-anchor="middle" font-weight="normal" textLength="26.5" lengthAdjust="spacingAndGlyphs" stroke="#fff" stroke-width="0.15">2618</text>
<line x1="674.5" y1="191.0" x2="674.5" y2="437.0" stroke="#000" stroke-width="1.2"/>
<polygon points="674.0,191.0 676.5,208.0 671.5,208.0" fill="#000"/>
<polygon points="674.0,437.0 671.5,420.0 676.5,420.0" fill="#000"/>
<text x="679.0" y="314.0" font-size="12.8" text-anchor="middle" font-weight="normal" transform="rotate(90 679.0 314.0)" textLength="25.5" lengthAdjust="spacingAndGlyphs" stroke="#fff" stroke-width="0.15">1950</text>
<line x1="615.0" y1="191.5" x2="681.0" y2="191.5" stroke="#000" stroke-width="1.2"/>
<line x1="619.5" y1="136.0" x2="619.5" y2="232.0" stroke="#000" stroke-width="1.2"/>
<polygon points="619.5,191.0 617.1,174.0 621.9,174.0" fill="#000"/>
<polygon points="619.5,196.6 621.9,213.6 617.1,213.6" fill="#000"/>
<text x="623.2" y="145.5" font-size="12.8" text-anchor="middle" font-weight="normal" transform="rotate(90 623.2 145.5)" textLength="12.5" lengthAdjust="spacingAndGlyphs" stroke="#fff" stroke-width="0.15">38</text>
<line x1="603.0" y1="196.5" x2="623.0" y2="196.5" stroke="#000" stroke-width="1.2"/>
<line x1="628.5" y1="361.0" x2="628.5" y2="476.0" stroke="#000" stroke-width="1.2"/>
<polygon points="628.0,422.0 625.6,405.0 630.4,405.0" fill="#000"/>
<polygon points="628.0,438.0 630.4,455.0 625.6,455.0" fill="#000"/>
<text x="632.3" y="373.5" font-size="12.8" text-anchor="middle" font-weight="normal" transform="rotate(90 632.3 373.5)" textLength="18.0" lengthAdjust="spacingAndGlyphs" stroke="#fff" stroke-width="0.15">130</text>
<line x1="603.0" y1="422.5" x2="688.0" y2="422.5" stroke="#000" stroke-width="1.2"/>
<rect x="634.8" y="192.0" width="17.2" height="2.6" rx="0" stroke="#000" stroke-width="1.2" fill="none"/>
<rect x="640.6" y="194.6" width="6.1" height="11.4" rx="0" stroke="#000" stroke-width="1.4" fill="none"/>
<line x1="640.6" y1="198.5" x2="646.7" y2="198.5" stroke="#000" stroke-width="0.8"/>
<clipPath id="c1"><path d="M461.8 438 L829 438 L829 462 L804.5 469 L760 459.5 L726 453.3 L694.5 459 L667.6 464.5 L627 467.8 L607 466.7 L571 456.6 L560 457.7 L545 461 L521 463 L500 459.5 L483 457.7 L461.8 457.7 Z"/></clipPath><g clip-path="url(#c1)">
<line x1="397.4" y1="438.0" x2="429.4" y2="470.0" stroke="#000" stroke-width="1.2"/>
<line x1="383.2" y1="438.0" x2="351.2" y2="470.0" stroke="#000" stroke-width="1.2"/>
<line x1="415.6" y1="438.0" x2="447.6" y2="470.0" stroke="#000" stroke-width="1.2"/>
<line x1="401.4" y1="438.0" x2="369.4" y2="470.0" stroke="#000" stroke-width="1.2"/>
<line x1="433.8" y1="438.0" x2="465.8" y2="470.0" stroke="#000" stroke-width="1.2"/>
<line x1="419.6" y1="438.0" x2="387.6" y2="470.0" stroke="#000" stroke-width="1.2"/>
<line x1="452.0" y1="438.0" x2="484.0" y2="470.0" stroke="#000" stroke-width="1.2"/>
<line x1="437.8" y1="438.0" x2="405.8" y2="470.0" stroke="#000" stroke-width="1.2"/>
<line x1="470.2" y1="438.0" x2="502.2" y2="470.0" stroke="#000" stroke-width="1.2"/>
<line x1="456.0" y1="438.0" x2="424.0" y2="470.0" stroke="#000" stroke-width="1.2"/>
<line x1="488.4" y1="438.0" x2="520.4" y2="470.0" stroke="#000" stroke-width="1.2"/>
<line x1="474.2" y1="438.0" x2="442.2" y2="470.0" stroke="#000" stroke-width="1.2"/>
<line x1="506.6" y1="438.0" x2="538.6" y2="470.0" stroke="#000" stroke-width="1.2"/>
<line x1="492.4" y1="438.0" x2="460.4" y2="470.0" stroke="#000" stroke-width="1.2"/>
<line x1="524.8" y1="438.0" x2="556.8" y2="470.0" stroke="#000" stroke-width="1.2"/>
<line x1="510.6" y1="438.0" x2="478.6" y2="470.0" stroke="#000" stroke-width="1.2"/>
<line x1="543.0" y1="438.0" x2="575.0" y2="470.0" stroke="#000" stroke-width="1.2"/>
<line x1="528.8" y1="438.0" x2="496.8" y2="470.0" stroke="#000" stroke-width="1.2"/>
<line x1="561.2" y1="438.0" x2="593.2" y2="470.0" stroke="#000" stroke-width="1.2"/>
<line x1="547.0" y1="438.0" x2="515.0" y2="470.0" stroke="#000" stroke-width="1.2"/>
<line x1="579.4" y1="438.0" x2="611.4" y2="470.0" stroke="#000" stroke-width="1.2"/>
<line x1="565.2" y1="438.0" x2="533.2" y2="470.0" stroke="#000" stroke-width="1.2"/>
<line x1="597.6" y1="438.0" x2="629.6" y2="470.0" stroke="#000" stroke-width="1.2"/>
<line x1="583.4" y1="438.0" x2="551.4" y2="470.0" stroke="#000" stroke-width="1.2"/>
<line x1="615.8" y1="438.0" x2="647.8" y2="470.0" stroke="#000" stroke-width="1.2"/>
<line x1="601.6" y1="438.0" x2="569.6" y2="470.0" stroke="#000" stroke-width="1.2"/>
<line x1="634.0" y1="438.0" x2="666.0" y2="470.0" stroke="#000" stroke-width="1.2"/>
<line x1="619.8" y1="438.0" x2="587.8" y2="470.0" stroke="#000" stroke-width="1.2"/>
<line x1="652.2" y1="438.0" x2="684.2" y2="470.0" stroke="#000" stroke-width="1.2"/>
<line x1="638.0" y1="438.0" x2="606.0" y2="470.0" stroke="#000" stroke-width="1.2"/>
<line x1="670.4" y1="438.0" x2="702.4" y2="470.0" stroke="#000" stroke-width="1.2"/>
<line x1="656.2" y1="438.0" x2="624.2" y2="470.0" stroke="#000" stroke-width="1.2"/>
<line x1="688.6" y1="438.0" x2="720.6" y2="470.0" stroke="#000" stroke-width="1.2"/>
<line x1="674.4" y1="438.0" x2="642.4" y2="470.0" stroke="#000" stroke-width="1.2"/>
<line x1="706.8" y1="438.0" x2="738.8" y2="470.0" stroke="#000" stroke-width="1.2"/>
<line x1="692.6" y1="438.0" x2="660.6" y2="470.0" stroke="#000" stroke-width="1.2"/>
<line x1="725.0" y1="438.0" x2="757.0" y2="470.0" stroke="#000" stroke-width="1.2"/>
<line x1="710.8" y1="438.0" x2="678.8" y2="470.0" stroke="#000" stroke-width="1.2"/>
<line x1="743.2" y1="438.0" x2="775.2" y2="470.0" stroke="#000" stroke-width="1.2"/>
<line x1="729.0" y1="438.0" x2="697.0" y2="470.0" stroke="#000" stroke-width="1.2"/>
<line x1="761.4" y1="438.0" x2="793.4" y2="470.0" stroke="#000" stroke-width="1.2"/>
<line x1="747.2" y1="438.0" x2="715.2" y2="470.0" stroke="#000" stroke-width="1.2"/>
<line x1="779.6" y1="438.0" x2="811.6" y2="470.0" stroke="#000" stroke-width="1.2"/>
<line x1="765.4" y1="438.0" x2="733.4" y2="470.0" stroke="#000" stroke-width="1.2"/>
<line x1="797.8" y1="438.0" x2="829.8" y2="470.0" stroke="#000" stroke-width="1.2"/>
<line x1="783.6" y1="438.0" x2="751.6" y2="470.0" stroke="#000" stroke-width="1.2"/>
<line x1="816.0" y1="438.0" x2="848.0" y2="470.0" stroke="#000" stroke-width="1.2"/>
<line x1="801.8" y1="438.0" x2="769.8" y2="470.0" stroke="#000" stroke-width="1.2"/>
<line x1="834.2" y1="438.0" x2="866.2" y2="470.0" stroke="#000" stroke-width="1.2"/>
<line x1="820.0" y1="438.0" x2="788.0" y2="470.0" stroke="#000" stroke-width="1.2"/>
<line x1="852.4" y1="438.0" x2="884.4" y2="470.0" stroke="#000" stroke-width="1.2"/>
<line x1="838.2" y1="438.0" x2="806.2" y2="470.0" stroke="#000" stroke-width="1.2"/>
<line x1="870.6" y1="438.0" x2="902.6" y2="470.0" stroke="#000" stroke-width="1.2"/>
<line x1="856.4" y1="438.0" x2="824.4" y2="470.0" stroke="#000" stroke-width="1.2"/>
<line x1="888.8" y1="438.0" x2="920.8" y2="470.0" stroke="#000" stroke-width="1.2"/>
<line x1="874.6" y1="438.0" x2="842.6" y2="470.0" stroke="#000" stroke-width="1.2"/>
</g>
<path d="M461.8 438 L829 438 L829 462 L804.5 469 L760 459.5 L726 453.3 L694.5 459 L667.6 464.5 L627 467.8 L607 466.7 L571 456.6 L560 457.7 L545 461 L521 463 L500 459.5 L483 457.7 L461.8 457.7 Z" stroke="#000" stroke-width="1.2" fill="none" />
<clipPath id="c2"><path d="M410 438 L461.8 438 L461.8 489.7 L410 489.7 Z"/></clipPath><g clip-path="url(#c2)">
<line x1="315.7" y1="438.0" x2="367.7" y2="490.0" stroke="#000" stroke-width="1.25"/>
<line x1="319.3" y1="438.0" x2="267.3" y2="490.0" stroke="#000" stroke-width="1.25"/>
<line x1="329.3" y1="438.0" x2="381.3" y2="490.0" stroke="#000" stroke-width="1.25"/>
<line x1="332.9" y1="438.0" x2="280.9" y2="490.0" stroke="#000" stroke-width="1.25"/>
<line x1="342.9" y1="438.0" x2="394.9" y2="490.0" stroke="#000" stroke-width="1.25"/>
<line x1="346.5" y1="438.0" x2="294.5" y2="490.0" stroke="#000" stroke-width="1.25"/>
<line x1="356.5" y1="438.0" x2="408.5" y2="490.0" stroke="#000" stroke-width="1.25"/>
<line x1="360.1" y1="438.0" x2="308.1" y2="490.0" stroke="#000" stroke-width="1.25"/>
<line x1="370.1" y1="438.0" x2="422.1" y2="490.0" stroke="#000" stroke-width="1.25"/>
<line x1="373.7" y1="438.0" x2="321.7" y2="490.0" stroke="#000" stroke-width="1.25"/>
<line x1="383.7" y1="438.0" x2="435.7" y2="490.0" stroke="#000" stroke-width="1.25"/>
<line x1="387.3" y1="438.0" x2="335.3" y2="490.0" stroke="#000" stroke-width="1.25"/>
<line x1="397.3" y1="438.0" x2="449.3" y2="490.0" stroke="#000" stroke-width="1.25"/>
<line x1="400.9" y1="438.0" x2="348.9" y2="490.0" stroke="#000" stroke-width="1.25"/>
<line x1="410.9" y1="438.0" x2="462.9" y2="490.0" stroke="#000" stroke-width="1.25"/>
<line x1="414.5" y1="438.0" x2="362.5" y2="490.0" stroke="#000" stroke-width="1.25"/>
<line x1="424.5" y1="438.0" x2="476.5" y2="490.0" stroke="#000" stroke-width="1.25"/>
<line x1="428.1" y1="438.0" x2="376.1" y2="490.0" stroke="#000" stroke-width="1.25"/>
<line x1="438.1" y1="438.0" x2="490.1" y2="490.0" stroke="#000" stroke-width="1.25"/>
<line x1="441.7" y1="438.0" x2="389.7" y2="490.0" stroke="#000" stroke-width="1.25"/>
<line x1="451.7" y1="438.0" x2="503.7" y2="490.0" stroke="#000" stroke-width="1.25"/>
<line x1="455.3" y1="438.0" x2="403.3" y2="490.0" stroke="#000" stroke-width="1.25"/>
<line x1="465.3" y1="438.0" x2="517.3" y2="490.0" stroke="#000" stroke-width="1.25"/>
<line x1="468.9" y1="438.0" x2="416.9" y2="490.0" stroke="#000" stroke-width="1.25"/>
<line x1="478.9" y1="438.0" x2="530.9" y2="490.0" stroke="#000" stroke-width="1.25"/>
<line x1="482.5" y1="438.0" x2="430.5" y2="490.0" stroke="#000" stroke-width="1.25"/>
<line x1="492.5" y1="438.0" x2="544.5" y2="490.0" stroke="#000" stroke-width="1.25"/>
<line x1="496.1" y1="438.0" x2="444.1" y2="490.0" stroke="#000" stroke-width="1.25"/>
<line x1="506.1" y1="438.0" x2="558.1" y2="490.0" stroke="#000" stroke-width="1.25"/>
<line x1="509.7" y1="438.0" x2="457.7" y2="490.0" stroke="#000" stroke-width="1.25"/>
<line x1="519.7" y1="438.0" x2="571.7" y2="490.0" stroke="#000" stroke-width="1.25"/>
<line x1="523.3" y1="438.0" x2="471.3" y2="490.0" stroke="#000" stroke-width="1.25"/>
<line x1="533.3" y1="438.0" x2="585.3" y2="490.0" stroke="#000" stroke-width="1.25"/>
<line x1="536.9" y1="438.0" x2="484.9" y2="490.0" stroke="#000" stroke-width="1.25"/>
</g>
<path d="M410 438 L461.8 438 L461.8 489.7 L410 489.7 Z" stroke="#000" stroke-width="1.7" fill="none" />
<clipPath id="c3"><path d="M829 438 L880.3 438 L880.3 489.7 L829 489.7 Z"/></clipPath><g clip-path="url(#c3)">
<line x1="737.8" y1="438.0" x2="789.8" y2="490.0" stroke="#000" stroke-width="1.25"/>
<line x1="741.4" y1="438.0" x2="689.4" y2="490.0" stroke="#000" stroke-width="1.25"/>
<line x1="751.4" y1="438.0" x2="803.4" y2="490.0" stroke="#000" stroke-width="1.25"/>
<line x1="755.0" y1="438.0" x2="703.0" y2="490.0" stroke="#000" stroke-width="1.25"/>
<line x1="765.0" y1="438.0" x2="817.0" y2="490.0" stroke="#000" stroke-width="1.25"/>
<line x1="768.6" y1="438.0" x2="716.6" y2="490.0" stroke="#000" stroke-width="1.25"/>
<line x1="778.6" y1="438.0" x2="830.6" y2="490.0" stroke="#000" stroke-width="1.25"/>
<line x1="782.2" y1="438.0" x2="730.2" y2="490.0" stroke="#000" stroke-width="1.25"/>
<line x1="792.2" y1="438.0" x2="844.2" y2="490.0" stroke="#000" stroke-width="1.25"/>
<line x1="795.8" y1="438.0" x2="743.8" y2="490.0" stroke="#000" stroke-width="1.25"/>
<line x1="805.8" y1="438.0" x2="857.8" y2="490.0" stroke="#000" stroke-width="1.25"/>
<line x1="809.4" y1="438.0" x2="757.4" y2="490.0" stroke="#000" stroke-width="1.25"/>
<line x1="819.4" y1="438.0" x2="871.4" y2="490.0" stroke="#000" stroke-width="1.25"/>
<line x1="823.0" y1="438.0" x2="771.0" y2="490.0" stroke="#000" stroke-width="1.25"/>
<line x1="833.0" y1="438.0" x2="885.0" y2="490.0" stroke="#000" stroke-width="1.25"/>
<line x1="836.6" y1="438.0" x2="784.6" y2="490.0" stroke="#000" stroke-width="1.25"/>
<line x1="846.6" y1="438.0" x2="898.6" y2="490.0" stroke="#000" stroke-width="1.25"/>
<line x1="850.2" y1="438.0" x2="798.2" y2="490.0" stroke="#000" stroke-width="1.25"/>
<line x1="860.2" y1="438.0" x2="912.2" y2="490.0" stroke="#000" stroke-width="1.25"/>
<line x1="863.8" y1="438.0" x2="811.8" y2="490.0" stroke="#000" stroke-width="1.25"/>
<line x1="873.8" y1="438.0" x2="925.8" y2="490.0" stroke="#000" stroke-width="1.25"/>
<line x1="877.4" y1="438.0" x2="825.4" y2="490.0" stroke="#000" stroke-width="1.25"/>
<line x1="887.4" y1="438.0" x2="939.4" y2="490.0" stroke="#000" stroke-width="1.25"/>
<line x1="891.0" y1="438.0" x2="839.0" y2="490.0" stroke="#000" stroke-width="1.25"/>
<line x1="901.0" y1="438.0" x2="953.0" y2="490.0" stroke="#000" stroke-width="1.25"/>
<line x1="904.6" y1="438.0" x2="852.6" y2="490.0" stroke="#000" stroke-width="1.25"/>
<line x1="914.6" y1="438.0" x2="966.6" y2="490.0" stroke="#000" stroke-width="1.25"/>
<line x1="918.2" y1="438.0" x2="866.2" y2="490.0" stroke="#000" stroke-width="1.25"/>
<line x1="928.2" y1="438.0" x2="980.2" y2="490.0" stroke="#000" stroke-width="1.25"/>
<line x1="931.8" y1="438.0" x2="879.8" y2="490.0" stroke="#000" stroke-width="1.25"/>
<line x1="941.8" y1="438.0" x2="993.8" y2="490.0" stroke="#000" stroke-width="1.25"/>
<line x1="945.4" y1="438.0" x2="893.4" y2="490.0" stroke="#000" stroke-width="1.25"/>
</g>
<path d="M829 438 L880.3 438 L880.3 489.7 L829 489.7 Z" stroke="#000" stroke-width="1.7" fill="none" />
<line x1="410.0" y1="438.4" x2="880.3" y2="438.4" stroke="#000" stroke-width="2.4"/>
<line x1="525.6" y1="432.6" x2="764.8" y2="432.6" stroke="#000" stroke-width="2.0"/>
<line x1="525.6" y1="431.0" x2="525.6" y2="438.0" stroke="#000" stroke-width="1.6"/>
<line x1="764.8" y1="431.0" x2="764.8" y2="438.0" stroke="#000" stroke-width="1.6"/>
<path d="M423.4 32 L432.5 30.4 L432.5 49.2 L423.4 47.8 Q421.9 47.6 421.9 46 L421.9 33.8 Q421.9 32.2 423.4 32 Z" stroke="#000" stroke-width="1.5" fill="none" />
<rect x="432.5" y="29.6" width="3.7" height="20.6" rx="0" stroke="#000" stroke-width="0.6" fill="#000"/>
<rect x="436.2" y="31.0" width="15.5" height="17.1" rx="0" stroke="#000" stroke-width="1.5" fill="none"/>
<line x1="421.9" y1="40.5" x2="451.7" y2="40.5" stroke="#000" stroke-width="1.0"/>
<rect x="451.7" y="26.1" width="4.5" height="25.1" rx="0" stroke="#000" stroke-width="1" fill="#000"/>
<rect x="445.4" y="48.4" width="5.6" height="4.8" rx="0" stroke="#000" stroke-width="1.9" fill="none"/>
<rect x="456.2" y="30.2" width="26.9" height="21.2" rx="0" stroke="#000" stroke-width="1" fill="#000"/>
<rect x="458.0" y="34.7" width="21.6" height="9.0" rx="0" stroke="#000" stroke-width="0.1" fill="#fff"/>
<line x1="462.5" y1="34.7" x2="462.5" y2="43.7" stroke="#000" stroke-width="1.1"/>
<line x1="467.5" y1="34.7" x2="467.5" y2="43.7" stroke="#000" stroke-width="1.1"/>
<line x1="473.5" y1="34.7" x2="473.5" y2="43.7" stroke="#000" stroke-width="1.1"/>
<line x1="477.5" y1="34.7" x2="477.5" y2="43.7" stroke="#000" stroke-width="1.1"/>
<rect x="460.5" y="40.4" width="2.2" height="3.3" rx="0" stroke="#000" stroke-width="0.1" fill="#000"/>
<rect x="465.0" y="40.4" width="2.2" height="3.3" rx="0" stroke="#000" stroke-width="0.1" fill="#000"/>
<rect x="470.3" y="40.4" width="2.2" height="3.3" rx="0" stroke="#000" stroke-width="0.1" fill="#000"/>
<rect x="475.0" y="40.4" width="2.2" height="3.3" rx="0" stroke="#000" stroke-width="0.1" fill="#000"/>
<circle cx="468.4" cy="53.6" r="1.9" fill="#000"/>
<path d="M455.8 51 L453.4 56 L454.6 60.5 L456.2 66 L454.6 72 L454.2 77" stroke="#000" stroke-width="3.2" fill="none" stroke-linejoin="round"/>
<rect x="451.5" y="78.0" width="5.5" height="32.0" rx="0" stroke="#000" stroke-width="1.7" fill="none"/>
<line x1="454.5" y1="81.0" x2="454.5" y2="107.0" stroke="#000" stroke-width="0.9"/>
<rect x="450.4" y="74.5" width="7.1" height="5.0" rx="0" stroke="#000" stroke-width="1" fill="#000"/>
<rect x="453.0" y="107.5" width="5.0" height="4.0" rx="0" stroke="#000" stroke-width="1" fill="#000"/>
<circle cx="462.0" cy="75.2" r="2.2" fill="#000"/>
<circle cx="451.6" cy="102.0" r="1.1" fill="#000"/>
<line x1="458.6" y1="51.0" x2="458.6" y2="430.0" stroke="#000" stroke-width="2.0"/>
<line x1="479.6" y1="51.0" x2="479.6" y2="106.0" stroke="#000" stroke-width="1.4"/>
<line x1="479.6" y1="106.0" x2="479.6" y2="430.0" stroke="#000" stroke-width="2.3"/>
<line x1="481.5" y1="56.0" x2="481.5" y2="74.0" stroke="#000" stroke-width="0.8"/>
<line x1="481.5" y1="80.0" x2="481.5" y2="96.0" stroke="#000" stroke-width="0.8"/>
<line x1="468.5" y1="58.0" x2="468.5" y2="436.0" stroke="#000" stroke-width="1.0" stroke-dasharray="57 7 5 7" stroke-dashoffset="44.6"/>
<line x1="454.5" y1="111.0" x2="454.5" y2="233.0" stroke="#000" stroke-width="1.3"/>
<line x1="456.5" y1="111.0" x2="456.5" y2="233.0" stroke="#000" stroke-width="1.0"/>
<line x1="454.5" y1="286.5" x2="454.5" y2="379.0" stroke="#000" stroke-width="1.3"/>
<line x1="456.5" y1="286.5" x2="456.5" y2="379.0" stroke="#000" stroke-width="1.0"/>
<path d="M456.3 379.0 L452.7 379.0 L440.4 428.8 L440.4 430.0" stroke="#000" stroke-width="1.4" fill="none" />
<line x1="456.5" y1="379.0" x2="456.5" y2="430.0" stroke="#000" stroke-width="1.0"/>
<circle cx="453.4" cy="425.2" r="2.0" fill="#000"/>
<line x1="430.0" y1="431.0" x2="525.6" y2="431.0" stroke="#000" stroke-width="2.8"/>
<line x1="430.7" y1="430.0" x2="430.7" y2="438.0" stroke="#000" stroke-width="1.4"/>
<rect x="430.5" y="431.4" width="23.5" height="6.2" rx="0" stroke="#000" stroke-width="1" fill="#000"/>
<rect x="434.0" y="433.0" width="3.0" height="3.0" rx="0" stroke="#000" stroke-width="0.4" fill="#ccc"/>
<rect x="439.5" y="433.0" width="4.5" height="3.0" rx="0" stroke="#000" stroke-width="0.4" fill="#ddd"/>
<rect x="432.6" y="426.6" width="6.0" height="4.4" rx="0" stroke="#000" stroke-width="1" fill="#000"/>
<circle cx="435.8" cy="426.0" r="1.9" fill="#000"/>
<path d="M435.8 438 L435.8 452.4 Q435.8 457.8 430.4 457.8 Q425 457.8 425 452.4 L425 450.4" stroke="#000" stroke-width="4.4" fill="none" stroke-linecap="butt"/>
<path d="M435.8 440 L435.8 452.4 Q435.8 457.8 430.4 457.8 Q425 457.8 425 452.4 L425 451.4" stroke="#555" stroke-width="0.9" fill="none" />
<g transform="translate(1290.4,0) scale(-1,1)">
<path d="M423.4 32 L432.5 30.4 L432.5 49.2 L423.4 47.8 Q421.9 47.6 421.9 46 L421.9 33.8 Q421.9 32.2 423.4 32 Z" stroke="#000" stroke-width="1.5" fill="none" />
<rect x="432.5" y="29.6" width="3.7" height="20.6" rx="0" stroke="#000" stroke-width="0.6" fill="#000"/>
<rect x="436.2" y="31.0" width="15.5" height="17.1" rx="0" stroke="#000" stroke-width="1.5" fill="none"/>
<line x1="421.9" y1="40.5" x2="451.7" y2="40.5" stroke="#000" stroke-width="1.0"/>
<rect x="451.7" y="26.1" width="4.5" height="25.1" rx="0" stroke="#000" stroke-width="1" fill="#000"/>
<rect x="445.4" y="48.4" width="5.6" height="4.8" rx="0" stroke="#000" stroke-width="1.9" fill="none"/>
<rect x="456.2" y="30.2" width="26.9" height="21.2" rx="0" stroke="#000" stroke-width="1" fill="#000"/>
<rect x="458.0" y="34.7" width="21.6" height="9.0" rx="0" stroke="#000" stroke-width="0.1" fill="#fff"/>
<line x1="462.5" y1="34.7" x2="462.5" y2="43.7" stroke="#000" stroke-width="1.1"/>
<line x1="467.5" y1="34.7" x2="467.5" y2="43.7" stroke="#000" stroke-width="1.1"/>
<line x1="473.5" y1="34.7" x2="473.5" y2="43.7" stroke="#000" stroke-width="1.1"/>
<line x1="477.5" y1="34.7" x2="477.5" y2="43.7" stroke="#000" stroke-width="1.1"/>
<rect x="460.5" y="40.4" width="2.2" height="3.3" rx="0" stroke="#000" stroke-width="0.1" fill="#000"/>
<rect x="465.0" y="40.4" width="2.2" height="3.3" rx="0" stroke="#000" stroke-width="0.1" fill="#000"/>
<rect x="470.3" y="40.4" width="2.2" height="3.3" rx="0" stroke="#000" stroke-width="0.1" fill="#000"/>
<rect x="475.0" y="40.4" width="2.2" height="3.3" rx="0" stroke="#000" stroke-width="0.1" fill="#000"/>
<circle cx="468.4" cy="53.6" r="1.9" fill="#000"/>
<path d="M455.8 51 L453.4 56 L454.6 60.5 L456.2 66 L454.6 72 L454.2 77" stroke="#000" stroke-width="3.2" fill="none" stroke-linejoin="round"/>
<rect x="451.5" y="78.0" width="5.5" height="32.0" rx="0" stroke="#000" stroke-width="1.7" fill="none"/>
<line x1="454.5" y1="81.0" x2="454.5" y2="107.0" stroke="#000" stroke-width="0.9"/>
<rect x="450.4" y="74.5" width="7.1" height="5.0" rx="0" stroke="#000" stroke-width="1" fill="#000"/>
<rect x="453.0" y="107.5" width="5.0" height="4.0" rx="0" stroke="#000" stroke-width="1" fill="#000"/>
<circle cx="462.0" cy="75.2" r="2.2" fill="#000"/>
<circle cx="451.6" cy="102.0" r="1.1" fill="#000"/>
<line x1="458.6" y1="51.0" x2="458.6" y2="430.0" stroke="#000" stroke-width="2.0"/>
<line x1="479.6" y1="51.0" x2="479.6" y2="106.0" stroke="#000" stroke-width="1.4"/>
<line x1="479.6" y1="106.0" x2="479.6" y2="430.0" stroke="#000" stroke-width="2.3"/>
<line x1="481.5" y1="56.0" x2="481.5" y2="74.0" stroke="#000" stroke-width="0.8"/>
<line x1="481.5" y1="80.0" x2="481.5" y2="96.0" stroke="#000" stroke-width="0.8"/>
<line x1="468.5" y1="58.0" x2="468.5" y2="436.0" stroke="#000" stroke-width="1.0" stroke-dasharray="57 7 5 7" stroke-dashoffset="44.6"/>
<line x1="454.2" y1="111.0" x2="454.2" y2="379.0" stroke="#000" stroke-width="2.0"/>
<path d="M456.3 379.0 L452.7 379.0 L440.4 428.8 L440.4 430.0" stroke="#000" stroke-width="1.4" fill="none" />
<line x1="456.5" y1="379.0" x2="456.5" y2="430.0" stroke="#000" stroke-width="1.0"/>
<circle cx="453.4" cy="425.2" r="2.0" fill="#000"/>
<line x1="430.0" y1="431.0" x2="525.6" y2="431.0" stroke="#000" stroke-width="2.8"/>
<line x1="430.7" y1="430.0" x2="430.7" y2="438.0" stroke="#000" stroke-width="1.4"/>
<rect x="430.5" y="431.4" width="23.5" height="6.2" rx="0" stroke="#000" stroke-width="1" fill="#000"/>
<rect x="434.0" y="433.0" width="3.0" height="3.0" rx="0" stroke="#000" stroke-width="0.4" fill="#ccc"/>
<rect x="439.5" y="433.0" width="4.5" height="3.0" rx="0" stroke="#000" stroke-width="0.4" fill="#ddd"/>
<rect x="432.6" y="426.6" width="6.0" height="4.4" rx="0" stroke="#000" stroke-width="1" fill="#000"/>
<circle cx="435.8" cy="426.0" r="1.9" fill="#000"/>
<path d="M435.8 438 L435.8 452.4 Q435.8 457.8 430.4 457.8 Q425 457.8 425 452.4 L425 450.4" stroke="#000" stroke-width="4.4" fill="none" stroke-linecap="butt"/>
<path d="M435.8 440 L435.8 452.4 Q435.8 457.8 430.4 457.8 Q425 457.8 425 452.4 L425 451.4" stroke="#555" stroke-width="0.9" fill="none" />
</g>
<rect x="440.4" y="233.5" width="16.0" height="52.5" rx="0" stroke="#000" stroke-width="1.6" fill="none"/>
<line x1="440.0" y1="233.5" x2="440.0" y2="286.0" stroke="#000" stroke-width="2.6"/>
<circle cx="445.8" cy="252.4" r="1.7" fill="#000"/>
<rect x="452.5" y="287.0" width="3.5" height="5.0" rx="0" stroke="#000" stroke-width="0.8" fill="none"/>
<g transform="translate(0,-226)">
<rect x="479.6" y="406.8" width="12.4" height="22.4" rx="0" stroke="#000" stroke-width="1" fill="#000"/>
<rect x="484.0" y="409.5" width="6.6" height="17.0" rx="0" stroke="#000" stroke-width="0.5" fill="#555"/>
<line x1="480.0" y1="428.4" x2="497.0" y2="428.4" stroke="#000" stroke-width="2.0"/>
<circle cx="485.4" cy="404.4" r="2.3" fill="#000"/>
<line x1="486.4" y1="429.0" x2="486.4" y2="433.0" stroke="#000" stroke-width="1.6"/>
<polygon points="492,408.2 531.2,414.2 547,415 547,417.8 531,417.3 492,412.4" fill="#000"/>
<line x1="493.0" y1="416.5" x2="537.0" y2="416.5" stroke="#000" stroke-width="0.8"/>
<line x1="506.5" y1="416.6" x2="506.5" y2="420.4" stroke="#000" stroke-width="1.0"/>
<path d="M493 421.8 L529 421.8" stroke="#000" stroke-width="2.4" fill="none" stroke-linecap="round"/>
<line x1="492.0" y1="426.0" x2="537.0" y2="426.0" stroke="#000" stroke-width="2.8"/>
<rect x="532.8" y="420.2" width="4.6" height="7.0" rx="0" stroke="#000" stroke-width="1.6" fill="#fff"/>
<line x1="537.4" y1="418.0" x2="576.0" y2="418.0" stroke="#000" stroke-width="2.2"/>
<line x1="537.4" y1="426.3" x2="579.5" y2="426.3" stroke="#000" stroke-width="2.2"/>
<path d="M566.0 418.0 L577.0 418.0 L587.2 428.6 L581.0 428.6 L571.2 419.2" stroke="#000" stroke-width="1.6" fill="none" stroke-linejoin="round"/>
<line x1="584.7" y1="424.0" x2="604.6" y2="424.0" stroke="#000" stroke-width="2.4"/>
<rect x="588.0" y="427.6" width="13.4" height="4.0" rx="0" stroke="#000" stroke-width="1.7" fill="#fff"/>
<rect x="592.0" y="432.6" width="6.6" height="5.0" rx="0" stroke="#000" stroke-width="1.4" fill="#fff"/>
<line x1="594.5" y1="424.0" x2="594.5" y2="428.0" stroke="#000" stroke-width="1.2"/>
<line x1="597.5" y1="424.0" x2="597.5" y2="428.0" stroke="#000" stroke-width="1.2"/>
</g>
<g transform="translate(0,0)">
<rect x="479.6" y="406.8" width="12.4" height="22.4" rx="0" stroke="#000" stroke-width="1" fill="#000"/>
<rect x="484.0" y="409.5" width="6.6" height="17.0" rx="0" stroke="#000" stroke-width="0.5" fill="#555"/>
<line x1="480.0" y1="428.4" x2="497.0" y2="428.4" stroke="#000" stroke-width="2.0"/>
<circle cx="485.4" cy="404.4" r="2.3" fill="#000"/>
<line x1="486.4" y1="429.0" x2="486.4" y2="433.0" stroke="#000" stroke-width="1.6"/>
<polygon points="492,408.2 531.2,414.2 547,415 547,417.8 531,417.3 492,412.4" fill="#000"/>
<line x1="493.0" y1="416.5" x2="537.0" y2="416.5" stroke="#000" stroke-width="0.8"/>
<line x1="506.5" y1="416.6" x2="506.5" y2="420.4" stroke="#000" stroke-width="1.0"/>
<path d="M493 421.8 L529 421.8" stroke="#000" stroke-width="2.4" fill="none" stroke-linecap="round"/>
<line x1="492.0" y1="426.0" x2="537.0" y2="426.0" stroke="#000" stroke-width="2.8"/>
<rect x="532.8" y="420.2" width="4.6" height="7.0" rx="0" stroke="#000" stroke-width="1.6" fill="#fff"/>
<line x1="537.4" y1="418.0" x2="576.0" y2="418.0" stroke="#000" stroke-width="2.2"/>
<line x1="537.4" y1="426.3" x2="579.5" y2="426.3" stroke="#000" stroke-width="2.2"/>
<path d="M566.0 418.0 L577.0 418.0 L587.2 428.6 L581.0 428.6 L571.2 419.2" stroke="#000" stroke-width="1.6" fill="none" stroke-linejoin="round"/>
<line x1="584.7" y1="424.0" x2="604.6" y2="424.0" stroke="#000" stroke-width="2.4"/>
<rect x="588.0" y="427.6" width="13.4" height="4.0" rx="0" stroke="#000" stroke-width="1.7" fill="#fff"/>
<rect x="592.0" y="432.6" width="6.6" height="5.0" rx="0" stroke="#000" stroke-width="1.4" fill="#fff"/>
<line x1="594.5" y1="424.0" x2="594.5" y2="428.0" stroke="#000" stroke-width="1.2"/>
<line x1="597.5" y1="424.0" x2="597.5" y2="428.0" stroke="#000" stroke-width="1.2"/>
</g>
<g transform="translate(1290.4,0) scale(-1,1)">
<g transform="translate(0,0)">
<rect x="479.6" y="406.8" width="12.4" height="22.4" rx="0" stroke="#000" stroke-width="1" fill="#000"/>
<rect x="484.0" y="409.5" width="6.6" height="17.0" rx="0" stroke="#000" stroke-width="0.5" fill="#555"/>
<line x1="480.0" y1="428.4" x2="497.0" y2="428.4" stroke="#000" stroke-width="2.0"/>
<circle cx="485.4" cy="404.4" r="2.3" fill="#000"/>
<line x1="486.4" y1="429.0" x2="486.4" y2="433.0" stroke="#000" stroke-width="1.6"/>
<polygon points="492,408.2 531.2,414.2 547,415 547,417.8 531,417.3 492,412.4" fill="#000"/>
<line x1="493.0" y1="416.5" x2="537.0" y2="416.5" stroke="#000" stroke-width="0.8"/>
<line x1="506.5" y1="416.6" x2="506.5" y2="420.4" stroke="#000" stroke-width="1.0"/>
<path d="M493 421.8 L529 421.8" stroke="#000" stroke-width="2.4" fill="none" stroke-linecap="round"/>
<line x1="492.0" y1="426.0" x2="537.0" y2="426.0" stroke="#000" stroke-width="2.8"/>
<rect x="532.8" y="420.2" width="4.6" height="7.0" rx="0" stroke="#000" stroke-width="1.6" fill="#fff"/>
<line x1="537.4" y1="418.0" x2="576.0" y2="418.0" stroke="#000" stroke-width="2.2"/>
<line x1="537.4" y1="426.3" x2="579.5" y2="426.3" stroke="#000" stroke-width="2.2"/>
<path d="M566.0 418.0 L577.0 418.0 L587.2 428.6 L581.0 428.6 L571.2 419.2" stroke="#000" stroke-width="1.6" fill="none" stroke-linejoin="round"/>
<line x1="584.7" y1="424.0" x2="604.6" y2="424.0" stroke="#000" stroke-width="2.4"/>
<rect x="588.0" y="427.6" width="13.4" height="4.0" rx="0" stroke="#000" stroke-width="1.7" fill="#fff"/>
<rect x="592.0" y="432.6" width="6.6" height="5.0" rx="0" stroke="#000" stroke-width="1.4" fill="#fff"/>
<line x1="594.5" y1="424.0" x2="594.5" y2="428.0" stroke="#000" stroke-width="1.2"/>
<line x1="597.5" y1="424.0" x2="597.5" y2="428.0" stroke="#000" stroke-width="1.2"/>
</g>
</g>
<circle cx="486.3" cy="409.5" r="19.0" stroke="#000" stroke-width="0.9" fill="none"/>
<line x1="502.0" y1="396.6" x2="524.2" y2="378.0" stroke="#000" stroke-width="1.2"/>
<line x1="524.2" y1="378.5" x2="535.8" y2="378.5" stroke="#000" stroke-width="1.2"/>
<path transform="translate(526.3,358.0) scale(15.900,15.9)" d="M0 1 L0.27 0 L0.34 0 L0.61 1 M0.09 0.68 L0.52 0.68" fill="none" stroke="#000" stroke-width="0.0723" vector-effect="none" stroke-linejoin="round" stroke-linecap="round"/>
<path transform="translate(413.8,305.0) scale(15.500,15.5)" d="M0.03 0.2 L0.22 0 L0.22 1 M0.02 1 L0.42 1" fill="none" stroke="#000" stroke-width="0.0742" vector-effect="none" stroke-linejoin="round" stroke-linecap="round"/>
<line x1="413.5" y1="330.5" x2="425.0" y2="330.5" stroke="#000" stroke-width="1.2"/>
<line x1="425.0" y1="330.3" x2="474.3" y2="364.8" stroke="#000" stroke-width="1.2"/>
<path transform="translate(880.0,181.1) scale(16.200,16.2)" d="M0.03 0.22 Q0.05 0 0.32 0 Q0.6 0 0.6 0.24 Q0.6 0.42 0.3 0.56 Q0.02 0.7 0.02 1 L0.62 1" fill="none" stroke="#000" stroke-width="0.0710" vector-effect="none" stroke-linejoin="round" stroke-linecap="round"/>
<line x1="894.2" y1="205.5" x2="875.9" y2="205.5" stroke="#000" stroke-width="1.2"/>
<line x1="875.9" y1="205.3" x2="827.5" y2="222.5" stroke="#000" stroke-width="1.2"/>
<path transform="translate(866.3,329.9) scale(16.200,16.2)" d="M0.04 0.16 Q0.1 0 0.32 0 Q0.58 0 0.58 0.23 Q0.58 0.46 0.26 0.47 Q0.62 0.48 0.62 0.74 Q0.62 1 0.32 1 Q0.06 1 0.02 0.8" fill="none" stroke="#000" stroke-width="0.0710" vector-effect="none" stroke-linejoin="round" stroke-linecap="round"/>
<line x1="879.8" y1="352.5" x2="860.6" y2="352.5" stroke="#000" stroke-width="1.2"/>
<line x1="860.6" y1="352.5" x2="733.4" y2="421.0" stroke="#000" stroke-width="1.2"/>
<text x="324.8" y="481.8" font-size="14.4" text-anchor="start" font-weight="normal" textLength="26.8" lengthAdjust="spacingAndGlyphs" stroke="#fff" stroke-width="0.15">Блок</text>
<text x="324.8" y="493.8" font-size="12" text-anchor="start" font-weight="normal" textLength="6.2" lengthAdjust="spacingAndGlyphs" stroke="#fff" stroke-width="0.15">Б</text>
<text x="332.0" y="493.8" font-size="16" text-anchor="start" font-weight="normal" textLength="48.8" lengthAdjust="spacingAndGlyphs" stroke="#fff" stroke-width="0.15">етонный</text>
<line x1="324.8" y1="498.5" x2="386.2" y2="498.5" stroke="#000" stroke-width="1.2"/>
<line x1="386.2" y1="498.2" x2="420.2" y2="466.6" stroke="#000" stroke-width="1.2"/>
<line x1="321.7" y1="573.5" x2="410.5" y2="573.5" stroke="#000" stroke-width="1.2"/>
<line x1="321.7" y1="738.5" x2="410.5" y2="738.5" stroke="#000" stroke-width="1.2"/>
<line x1="327.5" y1="573.6" x2="327.5" y2="738.2" stroke="#000" stroke-width="1.2"/>
<polygon points="327.0,573.6 329.5,590.6 324.5,590.6" fill="#000"/>
<polygon points="327.0,738.2 324.5,721.2 329.5,721.2" fill="#000"/>
<text x="330.8" y="655.5" font-size="12.8" text-anchor="middle" font-weight="normal" transform="rotate(90 330.8 655.5)" textLength="24.5" lengthAdjust="spacingAndGlyphs" stroke="#fff" stroke-width="0.15">1300</text>
<line x1="349.5" y1="573.6" x2="349.5" y2="649.1" stroke="#000" stroke-width="1.2"/>
<polygon points="349.9,573.6 352.4,590.6 347.4,590.6" fill="#000"/>
<polygon points="349.9,649.1 347.4,632.1 352.4,632.1" fill="#000"/>
<line x1="346.0" y1="649.5" x2="410.5" y2="649.5" stroke="#000" stroke-width="1.2"/>
<text x="354.8" y="611.7" font-size="12.8" text-anchor="middle" font-weight="normal" transform="rotate(90 354.8 611.7)" textLength="18.5" lengthAdjust="spacingAndGlyphs" stroke="#fff" stroke-width="0.15">600</text>
<line x1="372.5" y1="537.0" x2="372.5" y2="649.1" stroke="#000" stroke-width="1.2"/>
<polygon points="372.4,573.6 370.0,556.6 374.8,556.6" fill="#000"/>
<polygon points="372.4,586.5 374.8,603.5 370.0,603.5" fill="#000"/>
<line x1="367.9" y1="586.5" x2="430.0" y2="586.5" stroke="#000" stroke-width="1.2"/>
<text x="376.0" y="635.5" font-size="12.8" text-anchor="middle" font-weight="normal" transform="rotate(90 376.0 635.5)" textLength="17.5" lengthAdjust="spacingAndGlyphs" stroke="#fff" stroke-width="0.15">100</text>
<text x="396.8" y="609.6" font-size="12.8" text-anchor="middle" font-weight="normal" textLength="19.5" lengthAdjust="spacingAndGlyphs" stroke="#fff" stroke-width="0.15">200</text>
<line x1="391.8" y1="614.5" x2="410.5" y2="614.5" stroke="#000" stroke-width="1.2"/>
<polygon points="410.5,614.2 403.5,615.8 403.5,612.6" fill="#000"/>
<line x1="436.5" y1="614.5" x2="456.0" y2="614.5" stroke="#000" stroke-width="1.2"/>
<polygon points="436.5,614.2 443.5,612.6 443.5,615.8" fill="#000"/>
<line x1="410.5" y1="558.5" x2="410.5" y2="573.6" stroke="#000" stroke-width="1.2"/>
<line x1="461.5" y1="558.5" x2="461.5" y2="573.6" stroke="#000" stroke-width="1.2"/>
<line x1="410.5" y1="563.5" x2="461.6" y2="563.5" stroke="#000" stroke-width="1.2"/>
<polygon points="410.5,563.2 426.0,560.8 426.0,565.6" fill="#000"/>
<polygon points="461.6,563.2 446.1,565.6 446.1,560.8" fill="#000"/>
<text x="436.0" y="558.7" font-size="12.8" text-anchor="middle" font-weight="normal" textLength="18.5" lengthAdjust="spacingAndGlyphs" stroke="#fff" stroke-width="0.15">400</text>
<path transform="translate(396.3,622.8) scale(15.000,15)" d="M0.58 0 L0.04 0 L0.04 1 L0.34 1 Q0.62 1 0.62 0.72 Q0.62 0.46 0.34 0.46 L0.04 0.46" fill="none" stroke="#000" stroke-width="0.0667" vector-effect="none" stroke-linejoin="round" stroke-linecap="round"/>
<line x1="401.7" y1="642.8" x2="430.0" y2="642.8" stroke="#000" stroke-width="1.6"/>
<line x1="420.0" y1="635.5" x2="430.0" y2="642.8" stroke="#000" stroke-width="1.2"/>
<line x1="430.0" y1="642.8" x2="420.0" y2="650.0" stroke="#000" stroke-width="1.2"/>
<path transform="translate(395.4,745.5) scale(13.500,13.5)" d="M0.58 0 L0.04 0 L0.04 1 L0.34 1 Q0.62 1 0.62 0.72 Q0.62 0.46 0.34 0.46 L0.04 0.46" fill="none" stroke="#000" stroke-width="0.0741" vector-effect="none" stroke-linejoin="round" stroke-linecap="round"/>
<line x1="401.7" y1="764.5" x2="432.3" y2="764.5" stroke="#000" stroke-width="1.0"/>
<line x1="423.0" y1="758.5" x2="432.3" y2="764.2" stroke="#000" stroke-width="1.2"/>
<line x1="432.3" y1="764.2" x2="423.0" y2="770.0" stroke="#000" stroke-width="1.2"/>
<line x1="436.3" y1="742.0" x2="436.3" y2="768.3" stroke="#000" stroke-width="1.8"/>
<line x1="556.8" y1="783.5" x2="733.6" y2="783.5" stroke="#000" stroke-width="1.2"/>
<polygon points="556.8,783.3 573.8,780.8 573.8,785.8" fill="#000"/>
<polygon points="733.6,783.3 716.6,785.8 716.6,780.8" fill="#000"/>
<text x="645.3" y="779.0" font-size="12.8" text-anchor="middle" font-weight="normal" textLength="24.7" lengthAdjust="spacingAndGlyphs" stroke="#fff" stroke-width="0.15">1400</text>
<line x1="467.5" y1="668.0" x2="467.5" y2="817.5" stroke="#000" stroke-width="1.2"/>
<line x1="822.5" y1="668.0" x2="822.5" y2="817.5" stroke="#000" stroke-width="1.2"/>
<line x1="467.5" y1="813.5" x2="822.7" y2="813.5" stroke="#000" stroke-width="1.2"/>
<polygon points="467.5,813.2 484.5,810.7 484.5,815.7" fill="#000"/>
<polygon points="822.7,813.2 805.7,815.7 805.7,810.7" fill="#000"/>
<text x="645.3" y="808.6" font-size="12.8" text-anchor="middle" font-weight="normal" textLength="25.5" lengthAdjust="spacingAndGlyphs" stroke="#fff" stroke-width="0.15">2798</text>
<line x1="436.5" y1="721.0" x2="436.5" y2="836.5" stroke="#000" stroke-width="1.2"/>
<line x1="854.5" y1="721.0" x2="854.5" y2="836.5" stroke="#000" stroke-width="1.2"/>
<line x1="436.3" y1="832.5" x2="854.5" y2="832.5" stroke="#000" stroke-width="1.2"/>
<polygon points="436.3,832.0 453.3,829.5 453.3,834.5" fill="#000"/>
<polygon points="854.5,832.0 837.5,834.5 837.5,829.5" fill="#000"/>
<text x="645.3" y="827.6" font-size="12.8" text-anchor="middle" font-weight="normal" textLength="25.5" lengthAdjust="spacingAndGlyphs" stroke="#fff" stroke-width="0.15">3310</text>
<line x1="410.5" y1="738.2" x2="410.5" y2="855.5" stroke="#000" stroke-width="1.2"/>
<line x1="880.5" y1="738.2" x2="880.5" y2="855.5" stroke="#000" stroke-width="1.2"/>
<line x1="410.5" y1="851.5" x2="880.0" y2="851.5" stroke="#000" stroke-width="1.2"/>
<polygon points="410.5,851.0 427.5,848.5 427.5,853.5" fill="#000"/>
<polygon points="880.0,851.0 863.0,853.5 863.0,848.5" fill="#000"/>
<text x="645.3" y="846.6" font-size="12.8" text-anchor="middle" font-weight="normal" textLength="25.5" lengthAdjust="spacingAndGlyphs" stroke="#fff" stroke-width="0.15">3710</text>
<line x1="796.0" y1="512.5" x2="910.0" y2="512.5" stroke="#000" stroke-width="1.2"/>
<line x1="796.0" y1="799.5" x2="910.0" y2="799.5" stroke="#000" stroke-width="1.2"/>
<line x1="906.5" y1="512.5" x2="906.5" y2="799.5" stroke="#000" stroke-width="1.2"/>
<polygon points="906.0,512.5 908.5,529.5 903.5,529.5" fill="#000"/>
<polygon points="906.0,799.5 903.5,782.5 908.5,782.5" fill="#000"/>
<text x="909.8" y="656.0" font-size="12.8" text-anchor="middle" font-weight="normal" transform="rotate(90 909.8 656.0)" textLength="25.5" lengthAdjust="spacingAndGlyphs" stroke="#fff" stroke-width="0.15">2275</text>
<line x1="431.0" y1="632.5" x2="860.0" y2="632.5" stroke="#000" stroke-width="2.7"/>
<line x1="431.0" y1="680.0" x2="860.0" y2="680.0" stroke="#000" stroke-width="2.7"/>
<clipPath id="c4"><path d="M436.1 524.5 A131.0 131.0 0 0 1 616.7 607.2 L576.6 607.2 A93.2 93.2 0 0 0 451.9 558.8 Z"/></clipPath><g clip-path="url(#c4)">
<line x1="166.4" y1="505.0" x2="271.4" y2="610.0" stroke="#000" stroke-width="1.15"/>
<line x1="182.1" y1="505.0" x2="287.1" y2="610.0" stroke="#000" stroke-width="1.15"/>
<line x1="197.8" y1="505.0" x2="302.8" y2="610.0" stroke="#000" stroke-width="1.15"/>
<line x1="213.5" y1="505.0" x2="318.5" y2="610.0" stroke="#000" stroke-width="1.15"/>
<line x1="229.2" y1="505.0" x2="334.2" y2="610.0" stroke="#000" stroke-width="1.15"/>
<line x1="244.9" y1="505.0" x2="349.9" y2="610.0" stroke="#000" stroke-width="1.15"/>
<line x1="260.6" y1="505.0" x2="365.6" y2="610.0" stroke="#000" stroke-width="1.15"/>
<line x1="276.3" y1="505.0" x2="381.3" y2="610.0" stroke="#000" stroke-width="1.15"/>
<line x1="292.0" y1="505.0" x2="397.0" y2="610.0" stroke="#000" stroke-width="1.15"/>
<line x1="307.7" y1="505.0" x2="412.7" y2="610.0" stroke="#000" stroke-width="1.15"/>
<line x1="323.4" y1="505.0" x2="428.4" y2="610.0" stroke="#000" stroke-width="1.15"/>
<line x1="339.1" y1="505.0" x2="444.1" y2="610.0" stroke="#000" stroke-width="1.15"/>
<line x1="354.8" y1="505.0" x2="459.8" y2="610.0" stroke="#000" stroke-width="1.15"/>
<line x1="370.5" y1="505.0" x2="475.5" y2="610.0" stroke="#000" stroke-width="1.15"/>
<line x1="386.2" y1="505.0" x2="491.2" y2="610.0" stroke="#000" stroke-width="1.15"/>
<line x1="401.9" y1="505.0" x2="506.9" y2="610.0" stroke="#000" stroke-width="1.15"/>
<line x1="417.6" y1="505.0" x2="522.6" y2="610.0" stroke="#000" stroke-width="1.15"/>
<line x1="433.3" y1="505.0" x2="538.3" y2="610.0" stroke="#000" stroke-width="1.15"/>
<line x1="449.0" y1="505.0" x2="554.0" y2="610.0" stroke="#000" stroke-width="1.15"/>
<line x1="464.7" y1="505.0" x2="569.7" y2="610.0" stroke="#000" stroke-width="1.15"/>
<line x1="480.4" y1="505.0" x2="585.4" y2="610.0" stroke="#000" stroke-width="1.15"/>
<line x1="496.1" y1="505.0" x2="601.1" y2="610.0" stroke="#000" stroke-width="1.15"/>
<line x1="511.8" y1="505.0" x2="616.8" y2="610.0" stroke="#000" stroke-width="1.15"/>
<line x1="527.5" y1="505.0" x2="632.5" y2="610.0" stroke="#000" stroke-width="1.15"/>
<line x1="543.2" y1="505.0" x2="648.2" y2="610.0" stroke="#000" stroke-width="1.15"/>
<line x1="558.9" y1="505.0" x2="663.9" y2="610.0" stroke="#000" stroke-width="1.15"/>
<line x1="574.6" y1="505.0" x2="679.6" y2="610.0" stroke="#000" stroke-width="1.15"/>
<line x1="590.3" y1="505.0" x2="695.3" y2="610.0" stroke="#000" stroke-width="1.15"/>
<line x1="606.0" y1="505.0" x2="711.0" y2="610.0" stroke="#000" stroke-width="1.15"/>
<line x1="621.7" y1="505.0" x2="726.7" y2="610.0" stroke="#000" stroke-width="1.15"/>
<line x1="637.4" y1="505.0" x2="742.4" y2="610.0" stroke="#000" stroke-width="1.15"/>
<line x1="653.1" y1="505.0" x2="758.1" y2="610.0" stroke="#000" stroke-width="1.15"/>
<line x1="668.8" y1="505.0" x2="773.8" y2="610.0" stroke="#000" stroke-width="1.15"/>
<line x1="684.5" y1="505.0" x2="789.5" y2="610.0" stroke="#000" stroke-width="1.15"/>
<line x1="700.2" y1="505.0" x2="805.2" y2="610.0" stroke="#000" stroke-width="1.15"/>
<line x1="715.9" y1="505.0" x2="820.9" y2="610.0" stroke="#000" stroke-width="1.15"/>
<line x1="731.6" y1="505.0" x2="836.6" y2="610.0" stroke="#000" stroke-width="1.15"/>
<line x1="747.3" y1="505.0" x2="852.3" y2="610.0" stroke="#000" stroke-width="1.15"/>
<line x1="763.0" y1="505.0" x2="868.0" y2="610.0" stroke="#000" stroke-width="1.15"/>
<line x1="778.7" y1="505.0" x2="883.7" y2="610.0" stroke="#000" stroke-width="1.15"/>
<line x1="794.4" y1="505.0" x2="899.4" y2="610.0" stroke="#000" stroke-width="1.15"/>
<line x1="810.1" y1="505.0" x2="915.1" y2="610.0" stroke="#000" stroke-width="1.15"/>
<line x1="825.8" y1="505.0" x2="930.8" y2="610.0" stroke="#000" stroke-width="1.15"/>
</g>
<path d="M436.1 524.5 A131.0 131.0 0 0 1 616.7 607.2 L576.6 607.2 A93.2 93.2 0 0 0 451.9 558.8 Z" stroke="#000" stroke-width="1.2" fill="none" />
<path d="M548 525.6 A140 140 0 0 1 614.4 607.2" stroke="#000" stroke-width="0.9" fill="none" />
<path d="M566 588 A100 100 0 0 1 580 607.2" stroke="#000" stroke-width="0.9" fill="none" />
<path d="M548.5 607.2 L601.5 607.2 L601.5 632.5" stroke="#000" stroke-width="1.6" fill="none" />
<circle cx="556.8" cy="573.3" r="9.3" stroke="#000" stroke-width="0.8" fill="none"/>
<g transform="translate(490.8,643.5) rotate(-38.9)">
<path d="M6 -8 L60 -8 L60 -9 L66 -9 L66 -6.2 L124 -6.2 L124 6.2 L66 6.2 L66 9 L60 9 L60 8 L6 8 Z" fill="#fff" stroke="none"/>
<path d="M17 -8 L19 -16 Q19.8 -19.3 23 -19.3 L50 -19.3 Q54 -19.3 54.6 -16 L55.5 -8" stroke="#000" stroke-width="2.6" fill="#fff" stroke-linejoin="round"/>
<line x1="22.0" y1="-11.5" x2="52.0" y2="-11.5" stroke="#000" stroke-width="0.8"/>
<line x1="-3.0" y1="-8.0" x2="60.0" y2="-8.0" stroke="#000" stroke-width="2.0"/>
<line x1="2.0" y1="8.0" x2="60.0" y2="8.0" stroke="#000" stroke-width="2.0"/>
<line x1="14.0" y1="-2.5" x2="58.0" y2="-2.5" stroke="#000" stroke-width="0.8"/>
<line x1="30.0" y1="1.5" x2="58.0" y2="1.5" stroke="#000" stroke-width="0.8"/>
<line x1="36.5" y1="-8.0" x2="36.5" y2="8.0" stroke="#000" stroke-width="0.8"/>
<path d="M60 -9 L66 -9 L66 9 L60 9 Z" stroke="#000" stroke-width="1.5" fill="#fff" />
<circle cx="58.5" cy="10.2" r="1.5" fill="#000"/>
<path d="M36 8 L36 13.5 L40 13.5 L40 8" stroke="#000" stroke-width="0.9" fill="none" />
<line x1="66.0" y1="-6.2" x2="123.0" y2="-6.2" stroke="#000" stroke-width="1.8"/>
<line x1="66.0" y1="6.2" x2="123.0" y2="6.2" stroke="#000" stroke-width="1.8"/>
<line x1="74.0" y1="-1.5" x2="104.0" y2="-1.5" stroke="#000" stroke-width="0.8"/>
<line x1="104.0" y1="-6.2" x2="104.0" y2="6.2" stroke="#000" stroke-width="2.2"/>
<line x1="108.5" y1="-6.2" x2="108.5" y2="6.2" stroke="#000" stroke-width="2.0"/>
<line x1="113.5" y1="-6.2" x2="113.5" y2="6.2" stroke="#000" stroke-width="1.0"/>
<line x1="113.0" y1="-2.5" x2="128.0" y2="-2.5" stroke="#000" stroke-width="0.8"/>
<line x1="113.0" y1="3.5" x2="128.0" y2="3.5" stroke="#000" stroke-width="0.8"/>
</g>
<circle cx="593.6" cy="561.4" r="9.4" stroke="#000" stroke-width="1.7" fill="none"/>
<line x1="584.0" y1="561.5" x2="603.2" y2="561.5" stroke="#000" stroke-width="0.8"/>
<line x1="593.5" y1="552.0" x2="593.5" y2="571.0" stroke="#000" stroke-width="0.8"/>
<g transform="translate(1290.4,0) scale(-1,1)">
<clipPath id="c5"><path d="M436.1 524.5 A131.0 131.0 0 0 1 616.7 607.2 L576.6 607.2 A93.2 93.2 0 0 0 451.9 558.8 Z"/></clipPath><g clip-path="url(#c5)">
<line x1="166.4" y1="505.0" x2="271.4" y2="610.0" stroke="#000" stroke-width="1.15"/>
<line x1="182.1" y1="505.0" x2="287.1" y2="610.0" stroke="#000" stroke-width="1.15"/>
<line x1="197.8" y1="505.0" x2="302.8" y2="610.0" stroke="#000" stroke-width="1.15"/>
<line x1="213.5" y1="505.0" x2="318.5" y2="610.0" stroke="#000" stroke-width="1.15"/>
<line x1="229.2" y1="505.0" x2="334.2" y2="610.0" stroke="#000" stroke-width="1.15"/>
<line x1="244.9" y1="505.0" x2="349.9" y2="610.0" stroke="#000" stroke-width="1.15"/>
<line x1="260.6" y1="505.0" x2="365.6" y2="610.0" stroke="#000" stroke-width="1.15"/>
<line x1="276.3" y1="505.0" x2="381.3" y2="610.0" stroke="#000" stroke-width="1.15"/>
<line x1="292.0" y1="505.0" x2="397.0" y2="610.0" stroke="#000" stroke-width="1.15"/>
<line x1="307.7" y1="505.0" x2="412.7" y2="610.0" stroke="#000" stroke-width="1.15"/>
<line x1="323.4" y1="505.0" x2="428.4" y2="610.0" stroke="#000" stroke-width="1.15"/>
<line x1="339.1" y1="505.0" x2="444.1" y2="610.0" stroke="#000" stroke-width="1.15"/>
<line x1="354.8" y1="505.0" x2="459.8" y2="610.0" stroke="#000" stroke-width="1.15"/>
<line x1="370.5" y1="505.0" x2="475.5" y2="610.0" stroke="#000" stroke-width="1.15"/>
<line x1="386.2" y1="505.0" x2="491.2" y2="610.0" stroke="#000" stroke-width="1.15"/>
<line x1="401.9" y1="505.0" x2="506.9" y2="610.0" stroke="#000" stroke-width="1.15"/>
<line x1="417.6" y1="505.0" x2="522.6" y2="610.0" stroke="#000" stroke-width="1.15"/>
<line x1="433.3" y1="505.0" x2="538.3" y2="610.0" stroke="#000" stroke-width="1.15"/>
<line x1="449.0" y1="505.0" x2="554.0" y2="610.0" stroke="#000" stroke-width="1.15"/>
<line x1="464.7" y1="505.0" x2="569.7" y2="610.0" stroke="#000" stroke-width="1.15"/>
<line x1="480.4" y1="505.0" x2="585.4" y2="610.0" stroke="#000" stroke-width="1.15"/>
<line x1="496.1" y1="505.0" x2="601.1" y2="610.0" stroke="#000" stroke-width="1.15"/>
<line x1="511.8" y1="505.0" x2="616.8" y2="610.0" stroke="#000" stroke-width="1.15"/>
<line x1="527.5" y1="505.0" x2="632.5" y2="610.0" stroke="#000" stroke-width="1.15"/>
<line x1="543.2" y1="505.0" x2="648.2" y2="610.0" stroke="#000" stroke-width="1.15"/>
<line x1="558.9" y1="505.0" x2="663.9" y2="610.0" stroke="#000" stroke-width="1.15"/>
<line x1="574.6" y1="505.0" x2="679.6" y2="610.0" stroke="#000" stroke-width="1.15"/>
<line x1="590.3" y1="505.0" x2="695.3" y2="610.0" stroke="#000" stroke-width="1.15"/>
<line x1="606.0" y1="505.0" x2="711.0" y2="610.0" stroke="#000" stroke-width="1.15"/>
<line x1="621.7" y1="505.0" x2="726.7" y2="610.0" stroke="#000" stroke-width="1.15"/>
<line x1="637.4" y1="505.0" x2="742.4" y2="610.0" stroke="#000" stroke-width="1.15"/>
<line x1="653.1" y1="505.0" x2="758.1" y2="610.0" stroke="#000" stroke-width="1.15"/>
<line x1="668.8" y1="505.0" x2="773.8" y2="610.0" stroke="#000" stroke-width="1.15"/>
<line x1="684.5" y1="505.0" x2="789.5" y2="610.0" stroke="#000" stroke-width="1.15"/>
<line x1="700.2" y1="505.0" x2="805.2" y2="610.0" stroke="#000" stroke-width="1.15"/>
<line x1="715.9" y1="505.0" x2="820.9" y2="610.0" stroke="#000" stroke-width="1.15"/>
<line x1="731.6" y1="505.0" x2="836.6" y2="610.0" stroke="#000" stroke-width="1.15"/>
<line x1="747.3" y1="505.0" x2="852.3" y2="610.0" stroke="#000" stroke-width="1.15"/>
<line x1="763.0" y1="505.0" x2="868.0" y2="610.0" stroke="#000" stroke-width="1.15"/>
<line x1="778.7" y1="505.0" x2="883.7" y2="610.0" stroke="#000" stroke-width="1.15"/>
<line x1="794.4" y1="505.0" x2="899.4" y2="610.0" stroke="#000" stroke-width="1.15"/>
<line x1="810.1" y1="505.0" x2="915.1" y2="610.0" stroke="#000" stroke-width="1.15"/>
<line x1="825.8" y1="505.0" x2="930.8" y2="610.0" stroke="#000" stroke-width="1.15"/>
</g>
<path d="M436.1 524.5 A131.0 131.0 0 0 1 616.7 607.2 L576.6 607.2 A93.2 93.2 0 0 0 451.9 558.8 Z" stroke="#000" stroke-width="1.2" fill="none" />
<path d="M548 525.6 A140 140 0 0 1 614.4 607.2" stroke="#000" stroke-width="0.9" fill="none" />
<path d="M566 588 A100 100 0 0 1 580 607.2" stroke="#000" stroke-width="0.9" fill="none" />
<path d="M548.5 607.2 L601.5 607.2 L601.5 632.5" stroke="#000" stroke-width="1.6" fill="none" />
<circle cx="556.8" cy="573.3" r="9.3" stroke="#000" stroke-width="0.8" fill="none"/>
<g transform="translate(490.8,643.5) rotate(-38.9)">
<path d="M6 -8 L60 -8 L60 -9 L66 -9 L66 -6.2 L124 -6.2 L124 6.2 L66 6.2 L66 9 L60 9 L60 8 L6 8 Z" fill="#fff" stroke="none"/>
<path d="M17 -8 L19 -16 Q19.8 -19.3 23 -19.3 L50 -19.3 Q54 -19.3 54.6 -16 L55.5 -8" stroke="#000" stroke-width="2.6" fill="#fff" stroke-linejoin="round"/>
<line x1="22.0" y1="-11.5" x2="52.0" y2="-11.5" stroke="#000" stroke-width="0.8"/>
<line x1="-3.0" y1="-8.0" x2="60.0" y2="-8.0" stroke="#000" stroke-width="2.0"/>
<line x1="2.0" y1="8.0" x2="60.0" y2="8.0" stroke="#000" stroke-width="2.0"/>
<line x1="14.0" y1="-2.5" x2="58.0" y2="-2.5" stroke="#000" stroke-width="0.8"/>
<line x1="30.0" y1="1.5" x2="58.0" y2="1.5" stroke="#000" stroke-width="0.8"/>
<line x1="36.5" y1="-8.0" x2="36.5" y2="8.0" stroke="#000" stroke-width="0.8"/>
<path d="M60 -9 L66 -9 L66 9 L60 9 Z" stroke="#000" stroke-width="1.5" fill="#fff" />
<circle cx="58.5" cy="10.2" r="1.5" fill="#000"/>
<path d="M36 8 L36 13.5 L40 13.5 L40 8" stroke="#000" stroke-width="0.9" fill="none" />
<line x1="66.0" y1="-6.2" x2="123.0" y2="-6.2" stroke="#000" stroke-width="1.8"/>
<line x1="66.0" y1="6.2" x2="123.0" y2="6.2" stroke="#000" stroke-width="1.8"/>
<line x1="74.0" y1="-1.5" x2="104.0" y2="-1.5" stroke="#000" stroke-width="0.8"/>
<line x1="104.0" y1="-6.2" x2="104.0" y2="6.2" stroke="#000" stroke-width="2.2"/>
<line x1="108.5" y1="-6.2" x2="108.5" y2="6.2" stroke="#000" stroke-width="2.0"/>
<line x1="113.5" y1="-6.2" x2="113.5" y2="6.2" stroke="#000" stroke-width="1.0"/>
<line x1="113.0" y1="-2.5" x2="128.0" y2="-2.5" stroke="#000" stroke-width="0.8"/>
<line x1="113.0" y1="3.5" x2="128.0" y2="3.5" stroke="#000" stroke-width="0.8"/>
</g>
<circle cx="593.6" cy="561.4" r="9.4" stroke="#000" stroke-width="1.7" fill="none"/>
<line x1="584.0" y1="561.5" x2="603.2" y2="561.5" stroke="#000" stroke-width="0.8"/>
<line x1="593.5" y1="552.0" x2="593.5" y2="571.0" stroke="#000" stroke-width="0.8"/>
</g>
<g transform="translate(0,1312.6) scale(1,-1)">
<clipPath id="c6"><path d="M436.1 524.5 A131.0 131.0 0 0 1 616.7 607.2 L576.6 607.2 A93.2 93.2 0 0 0 451.9 558.8 Z"/></clipPath><g clip-path="url(#c6)">
<line x1="166.4" y1="505.0" x2="271.4" y2="610.0" stroke="#000" stroke-width="1.15"/>
<line x1="182.1" y1="505.0" x2="287.1" y2="610.0" stroke="#000" stroke-width="1.15"/>
<line x1="197.8" y1="505.0" x2="302.8" y2="610.0" stroke="#000" stroke-width="1.15"/>
<line x1="213.5" y1="505.0" x2="318.5" y2="610.0" stroke="#000" stroke-width="1.15"/>
<line x1="229.2" y1="505.0" x2="334.2" y2="610.0" stroke="#000" stroke-width="1.15"/>
<line x1="244.9" y1="505.0" x2="349.9" y2="610.0" stroke="#000" stroke-width="1.15"/>
<line x1="260.6" y1="505.0" x2="365.6" y2="610.0" stroke="#000" stroke-width="1.15"/>
<line x1="276.3" y1="505.0" x2="381.3" y2="610.0" stroke="#000" stroke-width="1.15"/>
<line x1="292.0" y1="505.0" x2="397.0" y2="610.0" stroke="#000" stroke-width="1.15"/>
<line x1="307.7" y1="505.0" x2="412.7" y2="610.0" stroke="#000" stroke-width="1.15"/>
<line x1="323.4" y1="505.0" x2="428.4" y2="610.0" stroke="#000" stroke-width="1.15"/>
<line x1="339.1" y1="505.0" x2="444.1" y2="610.0" stroke="#000" stroke-width="1.15"/>
<line x1="354.8" y1="505.0" x2="459.8" y2="610.0" stroke="#000" stroke-width="1.15"/>
<line x1="370.5" y1="505.0" x2="475.5" y2="610.0" stroke="#000" stroke-width="1.15"/>
<line x1="386.2" y1="505.0" x2="491.2" y2="610.0" stroke="#000" stroke-width="1.15"/>
<line x1="401.9" y1="505.0" x2="506.9" y2="610.0" stroke="#000" stroke-width="1.15"/>
<line x1="417.6" y1="505.0" x2="522.6" y2="610.0" stroke="#000" stroke-width="1.15"/>
<line x1="433.3" y1="505.0" x2="538.3" y2="610.0" stroke="#000" stroke-width="1.15"/>
<line x1="449.0" y1="505.0" x2="554.0" y2="610.0" stroke="#000" stroke-width="1.15"/>
<line x1="464.7" y1="505.0" x2="569.7" y2="610.0" stroke="#000" stroke-width="1.15"/>
<line x1="480.4" y1="505.0" x2="585.4" y2="610.0" stroke="#000" stroke-width="1.15"/>
<line x1="496.1" y1="505.0" x2="601.1" y2="610.0" stroke="#000" stroke-width="1.15"/>
<line x1="511.8" y1="505.0" x2="616.8" y2="610.0" stroke="#000" stroke-width="1.15"/>
<line x1="527.5" y1="505.0" x2="632.5" y2="610.0" stroke="#000" stroke-width="1.15"/>
<line x1="543.2" y1="505.0" x2="648.2" y2="610.0" stroke="#000" stroke-width="1.15"/>
<line x1="558.9" y1="505.0" x2="663.9" y2="610.0" stroke="#000" stroke-width="1.15"/>
<line x1="574.6" y1="505.0" x2="679.6" y2="610.0" stroke="#000" stroke-width="1.15"/>
<line x1="590.3" y1="505.0" x2="695.3" y2="610.0" stroke="#000" stroke-width="1.15"/>
<line x1="606.0" y1="505.0" x2="711.0" y2="610.0" stroke="#000" stroke-width="1.15"/>
<line x1="621.7" y1="505.0" x2="726.7" y2="610.0" stroke="#000" stroke-width="1.15"/>
<line x1="637.4" y1="505.0" x2="742.4" y2="610.0" stroke="#000" stroke-width="1.15"/>
<line x1="653.1" y1="505.0" x2="758.1" y2="610.0" stroke="#000" stroke-width="1.15"/>
<line x1="668.8" y1="505.0" x2="773.8" y2="610.0" stroke="#000" stroke-width="1.15"/>
<line x1="684.5" y1="505.0" x2="789.5" y2="610.0" stroke="#000" stroke-width="1.15"/>
<line x1="700.2" y1="505.0" x2="805.2" y2="610.0" stroke="#000" stroke-width="1.15"/>
<line x1="715.9" y1="505.0" x2="820.9" y2="610.0" stroke="#000" stroke-width="1.15"/>
<line x1="731.6" y1="505.0" x2="836.6" y2="610.0" stroke="#000" stroke-width="1.15"/>
<line x1="747.3" y1="505.0" x2="852.3" y2="610.0" stroke="#000" stroke-width="1.15"/>
<line x1="763.0" y1="505.0" x2="868.0" y2="610.0" stroke="#000" stroke-width="1.15"/>
<line x1="778.7" y1="505.0" x2="883.7" y2="610.0" stroke="#000" stroke-width="1.15"/>
<line x1="794.4" y1="505.0" x2="899.4" y2="610.0" stroke="#000" stroke-width="1.15"/>
<line x1="810.1" y1="505.0" x2="915.1" y2="610.0" stroke="#000" stroke-width="1.15"/>
<line x1="825.8" y1="505.0" x2="930.8" y2="610.0" stroke="#000" stroke-width="1.15"/>
</g>
<path d="M436.1 524.5 A131.0 131.0 0 0 1 616.7 607.2 L576.6 607.2 A93.2 93.2 0 0 0 451.9 558.8 Z" stroke="#000" stroke-width="1.2" fill="none" />
<path d="M548 525.6 A140 140 0 0 1 614.4 607.2" stroke="#000" stroke-width="0.9" fill="none" />
<path d="M566 588 A100 100 0 0 1 580 607.2" stroke="#000" stroke-width="0.9" fill="none" />
<path d="M548.5 607.2 L601.5 607.2 L601.5 632.5" stroke="#000" stroke-width="1.6" fill="none" />
<circle cx="556.8" cy="573.3" r="9.3" stroke="#000" stroke-width="0.8" fill="none"/>
<g transform="translate(490.8,643.5) rotate(-38.9)">
<path d="M6 -8 L60 -8 L60 -9 L66 -9 L66 -6.2 L124 -6.2 L124 6.2 L66 6.2 L66 9 L60 9 L60 8 L6 8 Z" fill="#fff" stroke="none"/>
<path d="M17 -8 L19 -16 Q19.8 -19.3 23 -19.3 L50 -19.3 Q54 -19.3 54.6 -16 L55.5 -8" stroke="#000" stroke-width="2.6" fill="#fff" stroke-linejoin="round"/>
<line x1="22.0" y1="-11.5" x2="52.0" y2="-11.5" stroke="#000" stroke-width="0.8"/>
<line x1="-3.0" y1="-8.0" x2="60.0" y2="-8.0" stroke="#000" stroke-width="2.0"/>
<line x1="2.0" y1="8.0" x2="60.0" y2="8.0" stroke="#000" stroke-width="2.0"/>
<line x1="14.0" y1="-2.5" x2="58.0" y2="-2.5" stroke="#000" stroke-width="0.8"/>
<line x1="30.0" y1="1.5" x2="58.0" y2="1.5" stroke="#000" stroke-width="0.8"/>
<line x1="36.5" y1="-8.0" x2="36.5" y2="8.0" stroke="#000" stroke-width="0.8"/>
<path d="M60 -9 L66 -9 L66 9 L60 9 Z" stroke="#000" stroke-width="1.5" fill="#fff" />
<circle cx="58.5" cy="10.2" r="1.5" fill="#000"/>
<path d="M36 8 L36 13.5 L40 13.5 L40 8" stroke="#000" stroke-width="0.9" fill="none" />
<line x1="66.0" y1="-6.2" x2="123.0" y2="-6.2" stroke="#000" stroke-width="1.8"/>
<line x1="66.0" y1="6.2" x2="123.0" y2="6.2" stroke="#000" stroke-width="1.8"/>
<line x1="74.0" y1="-1.5" x2="104.0" y2="-1.5" stroke="#000" stroke-width="0.8"/>
<line x1="104.0" y1="-6.2" x2="104.0" y2="6.2" stroke="#000" stroke-width="2.2"/>
<line x1="108.5" y1="-6.2" x2="108.5" y2="6.2" stroke="#000" stroke-width="2.0"/>
<line x1="113.5" y1="-6.2" x2="113.5" y2="6.2" stroke="#000" stroke-width="1.0"/>
<line x1="113.0" y1="-2.5" x2="128.0" y2="-2.5" stroke="#000" stroke-width="0.8"/>
<line x1="113.0" y1="3.5" x2="128.0" y2="3.5" stroke="#000" stroke-width="0.8"/>
</g>
<circle cx="593.6" cy="561.4" r="9.4" stroke="#000" stroke-width="1.7" fill="none"/>
<line x1="584.0" y1="561.5" x2="603.2" y2="561.5" stroke="#000" stroke-width="0.8"/>
<line x1="593.5" y1="552.0" x2="593.5" y2="571.0" stroke="#000" stroke-width="0.8"/>
</g>
<g transform="translate(1290.4,1312.6) scale(-1,-1)">
<clipPath id="c7"><path d="M436.1 524.5 A131.0 131.0 0 0 1 616.7 607.2 L576.6 607.2 A93.2 93.2 0 0 0 451.9 558.8 Z"/></clipPath><g clip-path="url(#c7)">
<line x1="166.4" y1="505.0" x2="271.4" y2="610.0" stroke="#000" stroke-width="1.15"/>
<line x1="182.1" y1="505.0" x2="287.1" y2="610.0" stroke="#000" stroke-width="1.15"/>
<line x1="197.8" y1="505.0" x2="302.8" y2="610.0" stroke="#000" stroke-width="1.15"/>
<line x1="213.5" y1="505.0" x2="318.5" y2="610.0" stroke="#000" stroke-width="1.15"/>
<line x1="229.2" y1="505.0" x2="334.2" y2="610.0" stroke="#000" stroke-width="1.15"/>
<line x1="244.9" y1="505.0" x2="349.9" y2="610.0" stroke="#000" stroke-width="1.15"/>
<line x1="260.6" y1="505.0" x2="365.6" y2="610.0" stroke="#000" stroke-width="1.15"/>
<line x1="276.3" y1="505.0" x2="381.3" y2="610.0" stroke="#000" stroke-width="1.15"/>
<line x1="292.0" y1="505.0" x2="397.0" y2="610.0" stroke="#000" stroke-width="1.15"/>
<line x1="307.7" y1="505.0" x2="412.7" y2="610.0" stroke="#000" stroke-width="1.15"/>
<line x1="323.4" y1="505.0" x2="428.4" y2="610.0" stroke="#000" stroke-width="1.15"/>
<line x1="339.1" y1="505.0" x2="444.1" y2="610.0" stroke="#000" stroke-width="1.15"/>
<line x1="354.8" y1="505.0" x2="459.8" y2="610.0" stroke="#000" stroke-width="1.15"/>
<line x1="370.5" y1="505.0" x2="475.5" y2="610.0" stroke="#000" stroke-width="1.15"/>
<line x1="386.2" y1="505.0" x2="491.2" y2="610.0" stroke="#000" stroke-width="1.15"/>
<line x1="401.9" y1="505.0" x2="506.9" y2="610.0" stroke="#000" stroke-width="1.15"/>
<line x1="417.6" y1="505.0" x2="522.6" y2="610.0" stroke="#000" stroke-width="1.15"/>
<line x1="433.3" y1="505.0" x2="538.3" y2="610.0" stroke="#000" stroke-width="1.15"/>
<line x1="449.0" y1="505.0" x2="554.0" y2="610.0" stroke="#000" stroke-width="1.15"/>
<line x1="464.7" y1="505.0" x2="569.7" y2="610.0" stroke="#000" stroke-width="1.15"/>
<line x1="480.4" y1="505.0" x2="585.4" y2="610.0" stroke="#000" stroke-width="1.15"/>
<line x1="496.1" y1="505.0" x2="601.1" y2="610.0" stroke="#000" stroke-width="1.15"/>
<line x1="511.8" y1="505.0" x2="616.8" y2="610.0" stroke="#000" stroke-width="1.15"/>
<line x1="527.5" y1="505.0" x2="632.5" y2="610.0" stroke="#000" stroke-width="1.15"/>
<line x1="543.2" y1="505.0" x2="648.2" y2="610.0" stroke="#000" stroke-width="1.15"/>
<line x1="558.9" y1="505.0" x2="663.9" y2="610.0" stroke="#000" stroke-width="1.15"/>
<line x1="574.6" y1="505.0" x2="679.6" y2="610.0" stroke="#000" stroke-width="1.15"/>
<line x1="590.3" y1="505.0" x2="695.3" y2="610.0" stroke="#000" stroke-width="1.15"/>
<line x1="606.0" y1="505.0" x2="711.0" y2="610.0" stroke="#000" stroke-width="1.15"/>
<line x1="621.7" y1="505.0" x2="726.7" y2="610.0" stroke="#000" stroke-width="1.15"/>
<line x1="637.4" y1="505.0" x2="742.4" y2="610.0" stroke="#000" stroke-width="1.15"/>
<line x1="653.1" y1="505.0" x2="758.1" y2="610.0" stroke="#000" stroke-width="1.15"/>
<line x1="668.8" y1="505.0" x2="773.8" y2="610.0" stroke="#000" stroke-width="1.15"/>
<line x1="684.5" y1="505.0" x2="789.5" y2="610.0" stroke="#000" stroke-width="1.15"/>
<line x1="700.2" y1="505.0" x2="805.2" y2="610.0" stroke="#000" stroke-width="1.15"/>
<line x1="715.9" y1="505.0" x2="820.9" y2="610.0" stroke="#000" stroke-width="1.15"/>
<line x1="731.6" y1="505.0" x2="836.6" y2="610.0" stroke="#000" stroke-width="1.15"/>
<line x1="747.3" y1="505.0" x2="852.3" y2="610.0" stroke="#000" stroke-width="1.15"/>
<line x1="763.0" y1="505.0" x2="868.0" y2="610.0" stroke="#000" stroke-width="1.15"/>
<line x1="778.7" y1="505.0" x2="883.7" y2="610.0" stroke="#000" stroke-width="1.15"/>
<line x1="794.4" y1="505.0" x2="899.4" y2="610.0" stroke="#000" stroke-width="1.15"/>
<line x1="810.1" y1="505.0" x2="915.1" y2="610.0" stroke="#000" stroke-width="1.15"/>
<line x1="825.8" y1="505.0" x2="930.8" y2="610.0" stroke="#000" stroke-width="1.15"/>
</g>
<path d="M436.1 524.5 A131.0 131.0 0 0 1 616.7 607.2 L576.6 607.2 A93.2 93.2 0 0 0 451.9 558.8 Z" stroke="#000" stroke-width="1.2" fill="none" />
<path d="M548 525.6 A140 140 0 0 1 614.4 607.2" stroke="#000" stroke-width="0.9" fill="none" />
<path d="M566 588 A100 100 0 0 1 580 607.2" stroke="#000" stroke-width="0.9" fill="none" />
<path d="M548.5 607.2 L601.5 607.2 L601.5 632.5" stroke="#000" stroke-width="1.6" fill="none" />
<circle cx="556.8" cy="573.3" r="9.3" stroke="#000" stroke-width="0.8" fill="none"/>
<g transform="translate(490.8,643.5) rotate(-38.9)">
<path d="M6 -8 L60 -8 L60 -9 L66 -9 L66 -6.2 L124 -6.2 L124 6.2 L66 6.2 L66 9 L60 9 L60 8 L6 8 Z" fill="#fff" stroke="none"/>
<path d="M17 -8 L19 -16 Q19.8 -19.3 23 -19.3 L50 -19.3 Q54 -19.3 54.6 -16 L55.5 -8" stroke="#000" stroke-width="2.6" fill="#fff" stroke-linejoin="round"/>
<line x1="22.0" y1="-11.5" x2="52.0" y2="-11.5" stroke="#000" stroke-width="0.8"/>
<line x1="-3.0" y1="-8.0" x2="60.0" y2="-8.0" stroke="#000" stroke-width="2.0"/>
<line x1="2.0" y1="8.0" x2="60.0" y2="8.0" stroke="#000" stroke-width="2.0"/>
<line x1="14.0" y1="-2.5" x2="58.0" y2="-2.5" stroke="#000" stroke-width="0.8"/>
<line x1="30.0" y1="1.5" x2="58.0" y2="1.5" stroke="#000" stroke-width="0.8"/>
<line x1="36.5" y1="-8.0" x2="36.5" y2="8.0" stroke="#000" stroke-width="0.8"/>
<path d="M60 -9 L66 -9 L66 9 L60 9 Z" stroke="#000" stroke-width="1.5" fill="#fff" />
<circle cx="58.5" cy="10.2" r="1.5" fill="#000"/>
<path d="M36 8 L36 13.5 L40 13.5 L40 8" stroke="#000" stroke-width="0.9" fill="none" />
<line x1="66.0" y1="-6.2" x2="123.0" y2="-6.2" stroke="#000" stroke-width="1.8"/>
<line x1="66.0" y1="6.2" x2="123.0" y2="6.2" stroke="#000" stroke-width="1.8"/>
<line x1="74.0" y1="-1.5" x2="104.0" y2="-1.5" stroke="#000" stroke-width="0.8"/>
<line x1="104.0" y1="-6.2" x2="104.0" y2="6.2" stroke="#000" stroke-width="2.2"/>
<line x1="108.5" y1="-6.2" x2="108.5" y2="6.2" stroke="#000" stroke-width="2.0"/>
<line x1="113.5" y1="-6.2" x2="113.5" y2="6.2" stroke="#000" stroke-width="1.0"/>
<line x1="113.0" y1="-2.5" x2="128.0" y2="-2.5" stroke="#000" stroke-width="0.8"/>
<line x1="113.0" y1="3.5" x2="128.0" y2="3.5" stroke="#000" stroke-width="0.8"/>
</g>
<circle cx="593.6" cy="561.4" r="9.4" stroke="#000" stroke-width="1.7" fill="none"/>
<line x1="584.0" y1="561.5" x2="603.2" y2="561.5" stroke="#000" stroke-width="0.8"/>
<line x1="593.5" y1="552.0" x2="593.5" y2="571.0" stroke="#000" stroke-width="0.8"/>
</g>
<line x1="556.5" y1="566.0" x2="556.5" y2="789.0" stroke="#000" stroke-width="1.2"/>
<line x1="733.5" y1="566.0" x2="733.5" y2="789.0" stroke="#000" stroke-width="1.2"/>
<line x1="601.5" y1="705.5" x2="689.0" y2="705.5" stroke="#000" stroke-width="1.2"/>
<line x1="601.5" y1="607.5" x2="635.7" y2="607.5" stroke="#000" stroke-width="1.2"/>
<line x1="455.0" y1="656.5" x2="629.0" y2="656.5" stroke="#000" stroke-width="1.0" stroke-dasharray="57 7 5 7" stroke-dashoffset="39.4"/>
<line x1="673.8" y1="656.5" x2="840.0" y2="656.5" stroke="#000" stroke-width="1.0" stroke-dasharray="46 7 5 7 57 7 5 7" stroke-dashoffset="0"/>
<path d="M430.0 650.0 L410.5 650.0 L410.5 573.6 L461.6 573.6 L461.6 632.0" stroke="#000" stroke-width="2.0" fill="none" stroke-linejoin="miter"/>
<path d="M422.0 662.6 L410.5 662.6 L410.5 738.2 L461.6 738.2 L461.6 680.0" stroke="#000" stroke-width="2.0" fill="none" stroke-linejoin="miter"/>
<rect x="430.2" y="586.5" width="17.0" height="139.0" rx="0" stroke="#000" stroke-width="1.9" fill="none"/>
<line x1="436.5" y1="592.0" x2="436.5" y2="616.0" stroke="#000" stroke-width="0.8"/>
<line x1="436.5" y1="696.0" x2="436.5" y2="720.0" stroke="#000" stroke-width="0.8"/>
<circle cx="436.5" cy="590.7" r="2.6" fill="#000"/>
<circle cx="436.5" cy="628.4" r="2.6" fill="#000"/>
<circle cx="436.5" cy="683.0" r="2.6" fill="#000"/>
<circle cx="436.5" cy="721.0" r="2.6" fill="#000"/>
<circle cx="451.2" cy="623.9" r="2.6" fill="#000"/>
<circle cx="451.2" cy="687.9" r="2.6" fill="#000"/>
<path d="M447.2 614.2 L463.0 631.5 L447.2 631.5" stroke="#000" stroke-width="1.5" fill="none" />
<path d="M447.2 696.0 L463.0 680.8 L447.2 680.8" stroke="#000" stroke-width="1.5" fill="none" />
<rect x="451.2" y="636.5" width="31.1" height="41.5" rx="0" stroke="#000" stroke-width="1.6" fill="#000"/>
<rect x="456.7" y="638.2" width="10.6" height="4.4" rx="0" stroke="#000" stroke-width="0.1" fill="#fff"/>
<rect x="469.0" y="638.2" width="10.2" height="4.4" rx="0" stroke="#000" stroke-width="0.1" fill="#fff"/>
<rect x="457.5" y="669.2" width="9.8" height="4.4" rx="0" stroke="#000" stroke-width="0.1" fill="#fff"/>
<rect x="469.0" y="669.2" width="10.0" height="4.4" rx="0" stroke="#000" stroke-width="0.1" fill="#fff"/>
<rect x="459.0" y="674.8" width="2.6" height="2.2" rx="0" stroke="#000" stroke-width="0.1" fill="#fff"/>
<rect x="464.0" y="674.8" width="2.6" height="2.2" rx="0" stroke="#000" stroke-width="0.1" fill="#fff"/>
<rect x="470.5" y="674.8" width="2.6" height="2.2" rx="0" stroke="#000" stroke-width="0.1" fill="#fff"/>
<rect x="475.5" y="674.8" width="2.6" height="2.2" rx="0" stroke="#000" stroke-width="0.1" fill="#fff"/>
<circle cx="467.5" cy="656.3" r="10.6" fill="none" stroke="#fff" stroke-width="1.0"/>
<circle cx="467.5" cy="656.3" r="7.0" fill="none" stroke="#fff" stroke-width="1.5"/>
<circle cx="467.5" cy="656.3" r="3.3" fill="#fff"/>
<line x1="467.5" y1="652.5" x2="467.5" y2="660.0" stroke="#000" stroke-width="1.0"/>
<line x1="467.5" y1="636.5" x2="467.5" y2="645.0" stroke="#666" stroke-width="0.9"/>
<path d="M482.3 642.6 L487.2 636 Q487.7 635.4 489 635.4 L494.6 635.4 L498.8 640.6 L498.8 672.6 L494.6 677.9 L489 677.9 Q487.7 677.9 487.2 677.3 L482.3 671.2 Z" stroke="#000" stroke-width="2.2" fill="#fff" />
<circle cx="491.0" cy="643.7" r="2.7" fill="#000"/>
<circle cx="491.0" cy="668.9" r="2.7" fill="#000"/>
<circle cx="485.3" cy="651.6" r="2.0" fill="#000"/>
<circle cx="485.3" cy="660.4" r="1.7" stroke="#000" stroke-width="1.3" fill="none"/>
<path d="M432.4 659.4 L425 659.4 Q422.3 659.4 422.3 662 L422.3 674.7 Q422.3 677.3 425 677.3 L432.4 677.3" stroke="#000" stroke-width="1.6" fill="#fff" />
<line x1="422.3" y1="667.5" x2="432.4" y2="667.5" stroke="#000" stroke-width="1.0"/>
<rect x="436.6" y="660.8" width="14.6" height="6.6" rx="0" stroke="#000" stroke-width="1.4" fill="#fff"/>
<rect x="436.6" y="669.0" width="14.6" height="8.4" rx="0" stroke="#000" stroke-width="1.4" fill="#fff"/>
<rect x="432.4" y="634.0" width="4.2" height="44.4" rx="0" stroke="#000" stroke-width="0.5" fill="#000"/>
<line x1="434.5" y1="637.0" x2="434.5" y2="657.0" stroke="#fff" stroke-width="1.2" stroke-dasharray="3.2 2.4" stroke-dashoffset="0"/>
<rect x="436.6" y="636.5" width="14.6" height="22.9" rx="0" stroke="#000" stroke-width="1.0" fill="#fff"/>
<rect x="441.2" y="642.6" width="10.2" height="14.2" rx="0" stroke="#000" stroke-width="2.4" fill="#fff"/>
<line x1="437.5" y1="636.8" x2="452.0" y2="641.4" stroke="#000" stroke-width="1.2"/>
<line x1="438.8" y1="638.0" x2="438.8" y2="658.0" stroke="#000" stroke-width="1.4"/>
<g transform="rotate(180 645.2 656.3)">
<path d="M430.0 650.0 L410.5 650.0 L410.5 573.6 L461.6 573.6 L461.6 632.0" stroke="#000" stroke-width="2.0" fill="none" stroke-linejoin="miter"/>
<path d="M422.0 662.6 L410.5 662.6 L410.5 738.2 L461.6 738.2 L461.6 680.0" stroke="#000" stroke-width="2.0" fill="none" stroke-linejoin="miter"/>
<rect x="430.2" y="586.5" width="17.0" height="139.0" rx="0" stroke="#000" stroke-width="1.9" fill="none"/>
<line x1="436.5" y1="592.0" x2="436.5" y2="616.0" stroke="#000" stroke-width="0.8"/>
<line x1="436.5" y1="696.0" x2="436.5" y2="720.0" stroke="#000" stroke-width="0.8"/>
<circle cx="436.5" cy="590.7" r="2.6" fill="#000"/>
<circle cx="436.5" cy="628.4" r="2.6" fill="#000"/>
<circle cx="436.5" cy="683.0" r="2.6" fill="#000"/>
<circle cx="436.5" cy="721.0" r="2.6" fill="#000"/>
<circle cx="451.2" cy="623.9" r="2.6" fill="#000"/>
<circle cx="451.2" cy="687.9" r="2.6" fill="#000"/>
<path d="M447.2 614.2 L463.0 631.5 L447.2 631.5" stroke="#000" stroke-width="1.5" fill="none" />
<path d="M447.2 696.0 L463.0 680.8 L447.2 680.8" stroke="#000" stroke-width="1.5" fill="none" />
<rect x="451.2" y="636.5" width="31.1" height="41.5" rx="0" stroke="#000" stroke-width="1.6" fill="#000"/>
<rect x="456.7" y="638.2" width="10.6" height="4.4" rx="0" stroke="#000" stroke-width="0.1" fill="#fff"/>
<rect x="469.0" y="638.2" width="10.2" height="4.4" rx="0" stroke="#000" stroke-width="0.1" fill="#fff"/>
<rect x="457.5" y="669.2" width="9.8" height="4.4" rx="0" stroke="#000" stroke-width="0.1" fill="#fff"/>
<rect x="469.0" y="669.2" width="10.0" height="4.4" rx="0" stroke="#000" stroke-width="0.1" fill="#fff"/>
<rect x="459.0" y="674.8" width="2.6" height="2.2" rx="0" stroke="#000" stroke-width="0.1" fill="#fff"/>
<rect x="464.0" y="674.8" width="2.6" height="2.2" rx="0" stroke="#000" stroke-width="0.1" fill="#fff"/>
<rect x="470.5" y="674.8" width="2.6" height="2.2" rx="0" stroke="#000" stroke-width="0.1" fill="#fff"/>
<rect x="475.5" y="674.8" width="2.6" height="2.2" rx="0" stroke="#000" stroke-width="0.1" fill="#fff"/>
<circle cx="467.5" cy="656.3" r="10.6" fill="none" stroke="#fff" stroke-width="1.0"/>
<circle cx="467.5" cy="656.3" r="7.0" fill="none" stroke="#fff" stroke-width="1.5"/>
<circle cx="467.5" cy="656.3" r="3.3" fill="#fff"/>
<line x1="467.5" y1="652.5" x2="467.5" y2="660.0" stroke="#000" stroke-width="1.0"/>
<line x1="467.5" y1="636.5" x2="467.5" y2="645.0" stroke="#666" stroke-width="0.9"/>
<path d="M482.3 642.6 L487.2 636 Q487.7 635.4 489 635.4 L494.6 635.4 L498.8 640.6 L498.8 672.6 L494.6 677.9 L489 677.9 Q487.7 677.9 487.2 677.3 L482.3 671.2 Z" stroke="#000" stroke-width="2.2" fill="#fff" />
<circle cx="491.0" cy="643.7" r="2.7" fill="#000"/>
<circle cx="491.0" cy="668.9" r="2.7" fill="#000"/>
<circle cx="485.3" cy="651.6" r="2.0" fill="#000"/>
<circle cx="485.3" cy="660.4" r="1.7" stroke="#000" stroke-width="1.3" fill="none"/>
<path d="M432.4 659.4 L425 659.4 Q422.3 659.4 422.3 662 L422.3 674.7 Q422.3 677.3 425 677.3 L432.4 677.3" stroke="#000" stroke-width="1.6" fill="#fff" />
<line x1="422.3" y1="667.5" x2="432.4" y2="667.5" stroke="#000" stroke-width="1.0"/>
<rect x="436.6" y="660.8" width="14.6" height="6.6" rx="0" stroke="#000" stroke-width="1.4" fill="#fff"/>
<rect x="436.6" y="669.0" width="14.6" height="8.4" rx="0" stroke="#000" stroke-width="1.4" fill="#fff"/>
<rect x="432.4" y="634.0" width="4.2" height="44.4" rx="0" stroke="#000" stroke-width="0.5" fill="#000"/>
<line x1="434.5" y1="637.0" x2="434.5" y2="657.0" stroke="#fff" stroke-width="1.2" stroke-dasharray="3.2 2.4" stroke-dashoffset="0"/>
<rect x="436.6" y="636.5" width="14.6" height="22.9" rx="0" stroke="#000" stroke-width="1.0" fill="#fff"/>
<rect x="441.2" y="642.6" width="10.2" height="14.2" rx="0" stroke="#000" stroke-width="2.4" fill="#fff"/>
<line x1="437.5" y1="636.8" x2="452.0" y2="641.4" stroke="#000" stroke-width="1.2"/>
<line x1="438.8" y1="638.0" x2="438.8" y2="658.0" stroke="#000" stroke-width="1.4"/>
</g>
<line x1="556.8" y1="573.5" x2="659.0" y2="573.5" stroke="#000" stroke-width="1.2"/>
<line x1="556.8" y1="739.5" x2="659.0" y2="739.5" stroke="#000" stroke-width="1.2"/>
<line x1="630.5" y1="607.2" x2="630.5" y2="705.4" stroke="#000" stroke-width="1.2"/>
<polygon points="630.4,607.2 632.9,624.2 627.9,624.2" fill="#000"/>
<polygon points="630.4,705.4 627.9,688.4 632.9,688.4" fill="#000"/>
<text x="634.3" y="656.4" font-size="12.8" text-anchor="middle" font-weight="normal" transform="rotate(90 634.3 656.4)" textLength="18.5" lengthAdjust="spacingAndGlyphs" stroke="#fff" stroke-width="0.15">770</text>
<line x1="654.5" y1="573.3" x2="654.5" y2="739.3" stroke="#000" stroke-width="1.2"/>
<polygon points="654.8,573.3 657.3,590.3 652.3,590.3" fill="#000"/>
<polygon points="654.8,739.3 652.3,722.3 657.3,722.3" fill="#000"/>
<text x="656.6" y="655.0" font-size="12.8" text-anchor="middle" font-weight="normal" transform="rotate(90 656.6 655.0)" textLength="24.5" lengthAdjust="spacingAndGlyphs" stroke="#fff" stroke-width="0.15">1300</text>
<text x="466.8" y="588.7" font-size="12.8" text-anchor="start" font-weight="normal" textLength="27.5" lengthAdjust="spacingAndGlyphs" stroke="#fff" stroke-width="0.15">R740</text>
<line x1="466.8" y1="591.5" x2="496.3" y2="591.5" stroke="#000" stroke-width="1.2"/>
<line x1="496.3" y1="591.0" x2="520.7" y2="557.6" stroke="#000" stroke-width="1.2"/>
<polygon points="520.7,557.6 516.9,565.3 514.5,563.6" fill="#000"/>
<text x="567.6" y="519.4" font-size="12.8" text-anchor="start" font-weight="normal" textLength="34.0" lengthAdjust="spacingAndGlyphs" stroke="#fff" stroke-width="0.15">R1040</text>
<line x1="598.2" y1="523.5" x2="568.6" y2="523.5" stroke="#000" stroke-width="1.2"/>
<line x1="568.6" y1="523.0" x2="535.0" y2="566.2" stroke="#000" stroke-width="1.2"/>
<polygon points="558.4,537.4 555.7,542.9 553.7,541.3" fill="#000"/>
<path transform="translate(877.1,531.5) scale(16.200,16.2)" d="M0.5 1 L0.5 0 L0.02 0.72 L0.66 0.72" fill="none" stroke="#000" stroke-width="0.0710" vector-effect="none" stroke-linejoin="round" stroke-linecap="round"/>
<line x1="891.8" y1="553.5" x2="875.1" y2="553.5" stroke="#000" stroke-width="1.2"/>
<line x1="875.1" y1="553.4" x2="748.0" y2="646.4" stroke="#000" stroke-width="1.2"/>
<path transform="translate(110.0,59.3) scale(16.400,16.4)" d="M0 1 L0.27 0 L0.34 0 L0.61 1 M0.09 0.68 L0.52 0.68" fill="none" stroke="#000" stroke-width="0.0701" vector-effect="none" stroke-linejoin="round" stroke-linecap="round"/>
<line x1="82.0" y1="122.8" x2="157.0" y2="121.0" stroke="#000" stroke-width="1.2"/>
<line x1="157.0" y1="121.0" x2="189.5" y2="131.0" stroke="#000" stroke-width="1.2"/>
<line x1="189.5" y1="131.0" x2="201.9" y2="133.6" stroke="#000" stroke-width="1.2"/>
<line x1="201.9" y1="133.6" x2="261.5" y2="178.0" stroke="#000" stroke-width="1.2"/>
<line x1="261.5" y1="178.0" x2="283.2" y2="203.2" stroke="#000" stroke-width="1.2"/>
<line x1="283.2" y1="203.2" x2="289.5" y2="231.0" stroke="#000" stroke-width="1.2"/>
<line x1="289.5" y1="231.0" x2="279.0" y2="277.6" stroke="#000" stroke-width="1.2"/>
<line x1="279.0" y1="277.6" x2="244.0" y2="328.6" stroke="#000" stroke-width="1.2"/>
<line x1="244.0" y1="328.6" x2="150.0" y2="374.4" stroke="#000" stroke-width="1.2"/>
<line x1="150.0" y1="374.4" x2="84.5" y2="342.8" stroke="#000" stroke-width="1.2"/>
<line x1="84.5" y1="342.8" x2="46.0" y2="304.0" stroke="#000" stroke-width="1.2"/>
<line x1="46.0" y1="304.0" x2="39.0" y2="247.0" stroke="#000" stroke-width="1.2"/>
<line x1="39.0" y1="247.0" x2="41.2" y2="194.5" stroke="#000" stroke-width="1.2"/>
<line x1="41.2" y1="194.5" x2="59.0" y2="146.5" stroke="#000" stroke-width="1.2"/>
<line x1="59.0" y1="146.5" x2="82.0" y2="122.8" stroke="#000" stroke-width="1.2"/>
<path transform="translate(256.3,19.3) scale(16.000,16)" d="M0.02 0 L0.6 0 L0.2 1" fill="none" stroke="#000" stroke-width="0.0719" vector-effect="none" stroke-linejoin="round" stroke-linecap="round"/>
<line x1="268.0" y1="39.5" x2="248.8" y2="39.5" stroke="#000" stroke-width="1.2"/>
<line x1="248.8" y1="39.2" x2="153.4" y2="172.0" stroke="#000" stroke-width="1.2"/>
<path transform="translate(256.3,49.6) scale(16.000,16)" d="M0.32 0.46 Q0.06 0.46 0.06 0.23 Q0.06 0 0.32 0 Q0.58 0 0.58 0.23 Q0.58 0.46 0.32 0.46 Q0.02 0.46 0.02 0.74 Q0.02 1 0.32 1 Q0.62 1 0.62 0.74 Q0.62 0.46 0.32 0.46" fill="none" stroke="#000" stroke-width="0.0719" vector-effect="none" stroke-linejoin="round" stroke-linecap="round"/>
<line x1="268.0" y1="70.5" x2="248.8" y2="70.5" stroke="#000" stroke-width="1.2"/>
<line x1="248.8" y1="70.1" x2="151.8" y2="204.0" stroke="#000" stroke-width="1.2"/>
<path transform="translate(256.3,75.0) scale(16.000,16)" d="M0.56 0.12 Q0.5 0 0.34 0 Q0.04 0 0.04 0.5 L0.04 0.72 Q0.04 1 0.33 1 Q0.62 1 0.62 0.7 Q0.62 0.42 0.33 0.42 Q0.08 0.42 0.04 0.66" fill="none" stroke="#000" stroke-width="0.0719" vector-effect="none" stroke-linejoin="round" stroke-linecap="round"/>
<line x1="269.2" y1="98.5" x2="250.0" y2="98.5" stroke="#000" stroke-width="1.2"/>
<line x1="250.0" y1="98.6" x2="147.0" y2="234.0" stroke="#000" stroke-width="1.2"/>
<line x1="75.8" y1="126.2" x2="75.8" y2="304.0" stroke="#000" stroke-width="2.2"/>
<line x1="78.5" y1="126.2" x2="78.5" y2="285.0" stroke="#000" stroke-width="1.0"/>
<line x1="75.8" y1="126.2" x2="81.2" y2="125.3" stroke="#000" stroke-width="1.2"/>
<line x1="81.2" y1="125.3" x2="83.9" y2="123.0" stroke="#000" stroke-width="1.2"/>
<path d="M81.2 125.3 L96.2 165.7 L96.2 285.0" stroke="#000" stroke-width="1.5" fill="none" stroke-linejoin="round"/>
<path d="M83.9 124.5 L99.6 164.0 L99.6 278.0" stroke="#000" stroke-width="2.0" fill="none" stroke-linejoin="round"/>
<line x1="96.2" y1="165.7" x2="99.6" y2="164.0" stroke="#000" stroke-width="1.0"/>
<line x1="75.0" y1="284.8" x2="99.6" y2="284.8" stroke="#000" stroke-width="1.6"/>
<line x1="83.0" y1="290.0" x2="123.5" y2="290.0" stroke="#000" stroke-width="1.6"/>
<line x1="83.5" y1="284.8" x2="83.5" y2="290.0" stroke="#000" stroke-width="1.0"/>
<circle cx="119.3" cy="145.0" r="12.0" stroke="#000" stroke-width="1.8" fill="none"/>
<line x1="107.3" y1="145.5" x2="131.3" y2="145.5" stroke="#000" stroke-width="0.8"/>
<line x1="119.5" y1="133.0" x2="119.5" y2="157.0" stroke="#000" stroke-width="0.8"/>
<line x1="116.0" y1="156.7" x2="116.0" y2="197.0" stroke="#000" stroke-width="1.6"/>
<line x1="122.6" y1="156.7" x2="122.6" y2="197.0" stroke="#000" stroke-width="1.6"/>
<line x1="119.5" y1="176.0" x2="119.5" y2="262.0" stroke="#000" stroke-width="0.8"/>
<rect x="100.0" y="176.0" width="98.3" height="8.8" rx="0" stroke="#000" stroke-width="1.9" fill="none"/>
<line x1="154.5" y1="176.0" x2="154.5" y2="194.5" stroke="#000" stroke-width="0.8"/>
<line x1="171.3" y1="176.0" x2="171.3" y2="184.8" stroke="#000" stroke-width="1.5"/>
<rect x="141.6" y="172.0" width="27.1" height="4.0" rx="1.5" stroke="#000" stroke-width="1" fill="#000"/>
<rect x="114.5" y="184.8" width="47.0" height="9.7" rx="0" stroke="#000" stroke-width="1.9" fill="none"/>
<rect x="109.5" y="188.0" width="5.0" height="6.5" rx="0" stroke="#000" stroke-width="1.2" fill="none"/>
<line x1="142.8" y1="194.5" x2="142.8" y2="262.0" stroke="#000" stroke-width="2.2"/>
<line x1="153.5" y1="194.5" x2="153.5" y2="289.0" stroke="#000" stroke-width="1.0"/>
<line x1="155.2" y1="194.5" x2="155.2" y2="262.0" stroke="#000" stroke-width="1.6"/>
<line x1="158.7" y1="194.5" x2="158.7" y2="280.0" stroke="#000" stroke-width="2.0"/>
<line x1="162.0" y1="194.5" x2="162.0" y2="243.0" stroke="#000" stroke-width="1.4"/>
<circle cx="151.6" cy="203.6" r="2.0" stroke="#000" stroke-width="1.3" fill="none"/>
<rect x="108.8" y="196.7" width="20.8" height="3.8" rx="1.9" stroke="#000" stroke-width="1.6" fill="#fff"/>
<rect x="108.8" y="205.4" width="20.8" height="3.8" rx="1.9" stroke="#000" stroke-width="1.6" fill="#fff"/>
<rect x="108.8" y="214.1" width="20.8" height="3.8" rx="1.9" stroke="#000" stroke-width="1.6" fill="#fff"/>
<rect x="108.8" y="222.9" width="20.8" height="3.8" rx="1.9" stroke="#000" stroke-width="1.6" fill="#fff"/>
<rect x="108.8" y="231.6" width="20.8" height="3.8" rx="1.9" stroke="#000" stroke-width="1.6" fill="#000"/>
<rect x="108.8" y="240.3" width="20.8" height="3.8" rx="1.9" stroke="#000" stroke-width="1.6" fill="#fff"/>
<rect x="108.8" y="249.0" width="20.8" height="3.8" rx="1.9" stroke="#000" stroke-width="1.6" fill="#fff"/>
<line x1="116.5" y1="197.0" x2="116.5" y2="258.0" stroke="#000" stroke-width="1.3"/>
<line x1="122.5" y1="197.0" x2="122.5" y2="258.0" stroke="#000" stroke-width="1.3"/>
<rect x="108.5" y="257.8" width="19.3" height="10.7" rx="0" stroke="#000" stroke-width="1" fill="#000"/>
<path d="M127.8 262 L149 262 Q153.5 262 153.5 266 L153.5 268.5 L127.8 268.5 Z" stroke="#000" stroke-width="1" fill="#000" />
<line x1="130.0" y1="265.5" x2="146.0" y2="265.5" stroke="#aaa" stroke-width="0.9"/>
<path d="M153.5 262 Q157.5 263 158.4 272" stroke="#000" stroke-width="1.4" fill="none" />
<rect x="111.4" y="269.2" width="40.6" height="8.6" rx="0" stroke="#000" stroke-width="1.6" fill="none"/>
<rect x="100.7" y="270.0" width="5.0" height="4.0" rx="0" stroke="#000" stroke-width="1.2" fill="none"/>
<rect x="105.7" y="270.0" width="5.0" height="4.0" rx="0" stroke="#000" stroke-width="1.2" fill="none"/>
<rect x="100.7" y="274.0" width="10.0" height="3.8" rx="0" stroke="#000" stroke-width="1.2" fill="none"/>
<line x1="99.3" y1="277.8" x2="278.0" y2="277.8" stroke="#000" stroke-width="2.2"/>
<rect x="123.5" y="280.7" width="75.0" height="9.3" rx="0" stroke="#000" stroke-width="1.9" fill="none"/>
<line x1="155.5" y1="280.7" x2="155.5" y2="290.0" stroke="#000" stroke-width="1.2"/>
<line x1="170.5" y1="280.7" x2="170.5" y2="290.0" stroke="#000" stroke-width="1.2"/>
<rect x="142.0" y="290.0" width="25.0" height="3.6" rx="1.8" stroke="#000" stroke-width="1" fill="#000"/>
<line x1="119.3" y1="269.0" x2="119.3" y2="306.9" stroke="#000" stroke-width="1.4"/>
<line x1="123.5" y1="269.0" x2="123.5" y2="306.9" stroke="#000" stroke-width="1.4"/>
<rect x="92.8" y="295.0" width="19.2" height="10.8" rx="0" stroke="#000" stroke-width="1.4" fill="#000"/>
<rect x="94.8" y="297.3" width="5.8" height="5.9" rx="0" stroke="#000" stroke-width="0.6" fill="#fff"/>
<rect x="104.3" y="297.3" width="5.7" height="5.9" rx="0" stroke="#000" stroke-width="0.6" fill="#fff"/>
<line x1="45.9" y1="306.0" x2="125.7" y2="306.0" stroke="#000" stroke-width="2.2"/>
<line x1="122.3" y1="306.0" x2="122.3" y2="327.0" stroke="#000" stroke-width="1.8"/>
<line x1="62.0" y1="327.3" x2="245.0" y2="327.3" stroke="#000" stroke-width="2.2"/>
<line x1="50.0" y1="314.5" x2="122.0" y2="314.5" stroke="#aaa" stroke-width="0.8"/>
<line x1="53.0" y1="317.5" x2="122.0" y2="317.5" stroke="#aaa" stroke-width="0.8"/>
<line x1="87.0" y1="344.5" x2="221.0" y2="344.5" stroke="#000" stroke-width="1.0" stroke-dasharray="57 8 3 8" stroke-dashoffset="0"/>
<line x1="116.0" y1="358.5" x2="195.6" y2="358.5" stroke="#000" stroke-width="1.0"/>
<path d="M168.7 185.6 L216.3 185.6 L282.8 202.8" stroke="#000" stroke-width="2.0" fill="none" stroke-linejoin="round"/>
<path d="M168.7 187.4 L241.5 206.3 L283.7 206.3" stroke="#000" stroke-width="1.9" fill="none" stroke-linejoin="round"/>
<path d="M161.8 194.5 L241.5 215.3" stroke="#000" stroke-width="1.9" fill="none"  />
<line x1="162.0" y1="215.3" x2="286.4" y2="215.3" stroke="#000" stroke-width="2.0"/>
<line x1="219.0" y1="209.8" x2="219.0" y2="215.3" stroke="#000" stroke-width="1.4"/>
<path d="M284.5 242.8 L165 242.8 Q158.6 242.8 158.6 249.2 Q158.6 255.7 165 255.7 L284.5 255.7" stroke="#000" stroke-width="2.2" fill="none" />
<line x1="165.0" y1="249.5" x2="212.0" y2="249.5" stroke="#000" stroke-width="0.9"/>
<line x1="212.0" y1="249.5" x2="284.0" y2="249.5" stroke="#000" stroke-width="0.9" stroke-dasharray="3 4 22 4" stroke-dashoffset="0"/>
<line x1="159.2" y1="273.3" x2="282.0" y2="273.3" stroke="#000" stroke-width="2.0"/>
<path transform="translate(115.6,612.1) scale(14.040,15.6)" d="M0.58 0 L0.04 0 L0.04 1 L0.34 1 Q0.62 1 0.62 0.72 Q0.62 0.46 0.34 0.46 L0.04 0.46" fill="none" stroke="#000" stroke-width="0.0737" vector-effect="none" stroke-linejoin="round" stroke-linecap="round"/>
<path transform="translate(126.3,612.1) scale(14.040,15.6)" d="M0.08 0.56 L0.52 0.56" fill="none" stroke="#000" stroke-width="0.0737" vector-effect="none" stroke-linejoin="round" stroke-linecap="round"/>
<path transform="translate(136.7,612.1) scale(14.040,15.6)" d="M0.58 0 L0.04 0 L0.04 1 L0.34 1 Q0.62 1 0.62 0.72 Q0.62 0.46 0.34 0.46 L0.04 0.46" fill="none" stroke="#000" stroke-width="0.0737" vector-effect="none" stroke-linejoin="round" stroke-linecap="round"/>
<path transform="translate(231.7,626.9) scale(15.200,15.2)" d="M0.03 0.2 L0.22 0 L0.22 1 M0.02 1 L0.42 1" fill="none" stroke="#000" stroke-width="0.0757" vector-effect="none" stroke-linejoin="round" stroke-linecap="round"/>
<path transform="translate(240.8,626.9) scale(15.200,15.2)" d="M0.32 0 Q0.04 0 0.04 0.3 L0.04 0.7 Q0.04 1 0.32 1 Q0.6 1 0.6 0.7 L0.6 0.3 Q0.6 0 0.32 0" fill="none" stroke="#000" stroke-width="0.0757" vector-effect="none" stroke-linejoin="round" stroke-linecap="round"/>
<path transform="translate(231.7,654.6) scale(14.700,14.7)" d="M0.03 0.2 L0.22 0 L0.22 1 M0.02 1 L0.42 1" fill="none" stroke="#000" stroke-width="0.0782" vector-effect="none" stroke-linejoin="round" stroke-linecap="round"/>
<path transform="translate(241.8,654.6) scale(14.700,14.7)" d="M0.03 0.2 L0.22 0 L0.22 1 M0.02 1 L0.42 1" fill="none" stroke="#000" stroke-width="0.0782" vector-effect="none" stroke-linejoin="round" stroke-linecap="round"/>
<line x1="253.4" y1="646.5" x2="229.1" y2="646.5" stroke="#000" stroke-width="1.2"/>
<line x1="229.5" y1="646.8" x2="229.5" y2="674.2" stroke="#000" stroke-width="1.2"/>
<line x1="229.1" y1="674.5" x2="253.4" y2="674.5" stroke="#000" stroke-width="1.2"/>
<line x1="229.1" y1="646.8" x2="181.5" y2="670.2" stroke="#000" stroke-width="0.9"/>
<line x1="27.2" y1="666.8" x2="110.7" y2="663.1" stroke="#000" stroke-width="1.2"/>
<line x1="110.7" y1="663.1" x2="200.8" y2="661.5" stroke="#000" stroke-width="1.2"/>
<line x1="200.8" y1="661.5" x2="255.2" y2="729.9" stroke="#000" stroke-width="1.2"/>
<line x1="255.2" y1="729.9" x2="263.6" y2="789.0" stroke="#000" stroke-width="1.2"/>
<line x1="263.6" y1="789.0" x2="240.0" y2="820.0" stroke="#000" stroke-width="1.2"/>
<line x1="240.0" y1="820.0" x2="167.0" y2="829.0" stroke="#000" stroke-width="1.2"/>
<line x1="167.0" y1="829.5" x2="29.6" y2="829.5" stroke="#000" stroke-width="1.2"/>
<line x1="29.6" y1="829.0" x2="12.2" y2="809.8" stroke="#000" stroke-width="1.2"/>
<line x1="12.2" y1="809.8" x2="14.0" y2="732.5" stroke="#000" stroke-width="1.2"/>
<line x1="14.0" y1="732.5" x2="19.3" y2="694.0" stroke="#000" stroke-width="1.2"/>
<line x1="19.3" y1="694.0" x2="29.9" y2="675.5" stroke="#000" stroke-width="1.2"/>
<line x1="29.9" y1="675.5" x2="27.2" y2="666.8" stroke="#000" stroke-width="1.2"/>
<clipPath id="c8"><path d="M29.7 692.8 L220.2 692.8 L220.2 819.8 L29.7 819.8 Z"/></clipPath><g clip-path="url(#c8)">
<line x1="-114.2" y1="692.8" x2="12.8" y2="819.8" stroke="#000" stroke-width="1.25"/>
<line x1="-111.8" y1="692.8" x2="-238.8" y2="819.8" stroke="#000" stroke-width="1.25"/>
<line x1="-100.8" y1="692.8" x2="26.2" y2="819.8" stroke="#000" stroke-width="1.25"/>
<line x1="-98.3" y1="692.8" x2="-225.3" y2="819.8" stroke="#000" stroke-width="1.25"/>
<line x1="-87.3" y1="692.8" x2="39.7" y2="819.8" stroke="#000" stroke-width="1.25"/>
<line x1="-84.8" y1="692.8" x2="-211.8" y2="819.8" stroke="#000" stroke-width="1.25"/>
<line x1="-73.8" y1="692.8" x2="53.2" y2="819.8" stroke="#000" stroke-width="1.25"/>
<line x1="-71.4" y1="692.8" x2="-198.4" y2="819.8" stroke="#000" stroke-width="1.25"/>
<line x1="-60.4" y1="692.8" x2="66.6" y2="819.8" stroke="#000" stroke-width="1.25"/>
<line x1="-57.9" y1="692.8" x2="-184.9" y2="819.8" stroke="#000" stroke-width="1.25"/>
<line x1="-46.9" y1="692.8" x2="80.1" y2="819.8" stroke="#000" stroke-width="1.25"/>
<line x1="-44.5" y1="692.8" x2="-171.5" y2="819.8" stroke="#000" stroke-width="1.25"/>
<line x1="-33.5" y1="692.8" x2="93.5" y2="819.8" stroke="#000" stroke-width="1.25"/>
<line x1="-31.0" y1="692.8" x2="-158.0" y2="819.8" stroke="#000" stroke-width="1.25"/>
<line x1="-20.0" y1="692.8" x2="107.0" y2="819.8" stroke="#000" stroke-width="1.25"/>
<line x1="-17.5" y1="692.8" x2="-144.5" y2="819.8" stroke="#000" stroke-width="1.25"/>
<line x1="-6.5" y1="692.8" x2="120.5" y2="819.8" stroke="#000" stroke-width="1.25"/>
<line x1="-4.1" y1="692.8" x2="-131.1" y2="819.8" stroke="#000" stroke-width="1.25"/>
<line x1="6.9" y1="692.8" x2="133.9" y2="819.8" stroke="#000" stroke-width="1.25"/>
<line x1="9.4" y1="692.8" x2="-117.6" y2="819.8" stroke="#000" stroke-width="1.25"/>
<line x1="20.4" y1="692.8" x2="147.4" y2="819.8" stroke="#000" stroke-width="1.25"/>
<line x1="22.8" y1="692.8" x2="-104.2" y2="819.8" stroke="#000" stroke-width="1.25"/>
<line x1="33.8" y1="692.8" x2="160.8" y2="819.8" stroke="#000" stroke-width="1.25"/>
<line x1="36.3" y1="692.8" x2="-90.7" y2="819.8" stroke="#000" stroke-width="1.25"/>
<line x1="47.3" y1="692.8" x2="174.3" y2="819.8" stroke="#000" stroke-width="1.25"/>
<line x1="49.8" y1="692.8" x2="-77.2" y2="819.8" stroke="#000" stroke-width="1.25"/>
<line x1="60.8" y1="692.8" x2="187.8" y2="819.8" stroke="#000" stroke-width="1.25"/>
<line x1="63.2" y1="692.8" x2="-63.8" y2="819.8" stroke="#000" stroke-width="1.25"/>
<line x1="74.2" y1="692.8" x2="201.2" y2="819.8" stroke="#000" stroke-width="1.25"/>
<line x1="76.7" y1="692.8" x2="-50.3" y2="819.8" stroke="#000" stroke-width="1.25"/>
<line x1="87.7" y1="692.8" x2="214.7" y2="819.8" stroke="#000" stroke-width="1.25"/>
<line x1="90.1" y1="692.8" x2="-36.9" y2="819.8" stroke="#000" stroke-width="1.25"/>
<line x1="101.1" y1="692.8" x2="228.1" y2="819.8" stroke="#000" stroke-width="1.25"/>
<line x1="103.6" y1="692.8" x2="-23.4" y2="819.8" stroke="#000" stroke-width="1.25"/>
<line x1="114.6" y1="692.8" x2="241.6" y2="819.8" stroke="#000" stroke-width="1.25"/>
<line x1="117.1" y1="692.8" x2="-9.9" y2="819.8" stroke="#000" stroke-width="1.25"/>
<line x1="128.1" y1="692.8" x2="255.1" y2="819.8" stroke="#000" stroke-width="1.25"/>
<line x1="130.5" y1="692.8" x2="3.5" y2="819.8" stroke="#000" stroke-width="1.25"/>
<line x1="141.5" y1="692.8" x2="268.5" y2="819.8" stroke="#000" stroke-width="1.25"/>
<line x1="144.0" y1="692.8" x2="17.0" y2="819.8" stroke="#000" stroke-width="1.25"/>
<line x1="155.0" y1="692.8" x2="282.0" y2="819.8" stroke="#000" stroke-width="1.25"/>
<line x1="157.4" y1="692.8" x2="30.4" y2="819.8" stroke="#000" stroke-width="1.25"/>
<line x1="168.4" y1="692.8" x2="295.4" y2="819.8" stroke="#000" stroke-width="1.25"/>
<line x1="170.9" y1="692.8" x2="43.9" y2="819.8" stroke="#000" stroke-width="1.25"/>
<line x1="181.9" y1="692.8" x2="308.9" y2="819.8" stroke="#000" stroke-width="1.25"/>
<line x1="184.4" y1="692.8" x2="57.4" y2="819.8" stroke="#000" stroke-width="1.25"/>
<line x1="195.4" y1="692.8" x2="322.4" y2="819.8" stroke="#000" stroke-width="1.25"/>
<line x1="197.8" y1="692.8" x2="70.8" y2="819.8" stroke="#000" stroke-width="1.25"/>
<line x1="208.8" y1="692.8" x2="335.8" y2="819.8" stroke="#000" stroke-width="1.25"/>
<line x1="211.3" y1="692.8" x2="84.3" y2="819.8" stroke="#000" stroke-width="1.25"/>
<line x1="222.3" y1="692.8" x2="349.3" y2="819.8" stroke="#000" stroke-width="1.25"/>
<line x1="224.7" y1="692.8" x2="97.7" y2="819.8" stroke="#000" stroke-width="1.25"/>
<line x1="235.7" y1="692.8" x2="362.7" y2="819.8" stroke="#000" stroke-width="1.25"/>
<line x1="238.2" y1="692.8" x2="111.2" y2="819.8" stroke="#000" stroke-width="1.25"/>
<line x1="249.2" y1="692.8" x2="376.2" y2="819.8" stroke="#000" stroke-width="1.25"/>
<line x1="251.7" y1="692.8" x2="124.7" y2="819.8" stroke="#000" stroke-width="1.25"/>
<line x1="262.7" y1="692.8" x2="389.7" y2="819.8" stroke="#000" stroke-width="1.25"/>
<line x1="265.1" y1="692.8" x2="138.1" y2="819.8" stroke="#000" stroke-width="1.25"/>
<line x1="276.1" y1="692.8" x2="403.1" y2="819.8" stroke="#000" stroke-width="1.25"/>
<line x1="278.6" y1="692.8" x2="151.6" y2="819.8" stroke="#000" stroke-width="1.25"/>
<line x1="289.6" y1="692.8" x2="416.6" y2="819.8" stroke="#000" stroke-width="1.25"/>
<line x1="292.0" y1="692.8" x2="165.0" y2="819.8" stroke="#000" stroke-width="1.25"/>
<line x1="303.0" y1="692.8" x2="430.0" y2="819.8" stroke="#000" stroke-width="1.25"/>
<line x1="305.5" y1="692.8" x2="178.5" y2="819.8" stroke="#000" stroke-width="1.25"/>
<line x1="316.5" y1="692.8" x2="443.5" y2="819.8" stroke="#000" stroke-width="1.25"/>
<line x1="319.0" y1="692.8" x2="192.0" y2="819.8" stroke="#000" stroke-width="1.25"/>
<line x1="330.0" y1="692.8" x2="457.0" y2="819.8" stroke="#000" stroke-width="1.25"/>
<line x1="332.4" y1="692.8" x2="205.4" y2="819.8" stroke="#000" stroke-width="1.25"/>
<line x1="343.4" y1="692.8" x2="470.4" y2="819.8" stroke="#000" stroke-width="1.25"/>
<line x1="345.9" y1="692.8" x2="218.9" y2="819.8" stroke="#000" stroke-width="1.25"/>
<line x1="356.9" y1="692.8" x2="483.9" y2="819.8" stroke="#000" stroke-width="1.25"/>
<line x1="359.3" y1="692.8" x2="232.3" y2="819.8" stroke="#000" stroke-width="1.25"/>
<line x1="370.3" y1="692.8" x2="497.3" y2="819.8" stroke="#000" stroke-width="1.25"/>
<line x1="372.8" y1="692.8" x2="245.8" y2="819.8" stroke="#000" stroke-width="1.25"/>
</g>
<path d="M29.7 692.8 L220.2 692.8 L220.2 819.8 L29.7 819.8 Z" stroke="#000" stroke-width="1.8" fill="none" />
<line x1="19.3" y1="692.4" x2="220.0" y2="692.4" stroke="#000" stroke-width="1.8"/>
<line x1="220.0" y1="692.5" x2="287.0" y2="692.5" stroke="#000" stroke-width="1.0"/>
<line x1="68.8" y1="677.0" x2="187.6" y2="677.0" stroke="#000" stroke-width="2.2"/>
<rect x="179.6" y="677.4" width="8.0" height="15.4" rx="0" stroke="#000" stroke-width="1.2" fill="none"/>
<rect x="26.2" y="672.4" width="44.3" height="4.6" rx="0" stroke="#000" stroke-width="1" fill="#000"/>
<rect x="43.0" y="679.0" width="12.4" height="13.0" rx="0" stroke="#000" stroke-width="1.0" fill="none"/>
<rect x="68.8" y="679.0" width="7.7" height="13.0" rx="0" stroke="#000" stroke-width="1.0" fill="none"/>
<rect x="32.1" y="667.6" width="9.0" height="3.8" rx="0" stroke="#000" stroke-width="1" fill="#000"/>
<rect x="33.6" y="671.4" width="6.0" height="20.1" rx="0" stroke="#000" stroke-width="1.2" fill="#000"/>
<line x1="36.5" y1="673.0" x2="36.5" y2="690.0" stroke="#fff" stroke-width="0.9"/>
<rect x="31.8" y="684.5" width="9.6" height="7.0" rx="0" stroke="#000" stroke-width="1.0" fill="#000"/>
<line x1="36.5" y1="685.0" x2="36.5" y2="691.0" stroke="#fff" stroke-width="0.8"/>
<rect x="57.3" y="667.6" width="9.0" height="3.8" rx="0" stroke="#000" stroke-width="1" fill="#000"/>
<rect x="58.8" y="671.4" width="6.0" height="20.1" rx="0" stroke="#000" stroke-width="1.2" fill="#000"/>
<line x1="61.5" y1="673.0" x2="61.5" y2="690.0" stroke="#fff" stroke-width="0.9"/>
<rect x="57.0" y="684.5" width="9.6" height="7.0" rx="0" stroke="#000" stroke-width="1.0" fill="#000"/>
<line x1="61.5" y1="685.0" x2="61.5" y2="691.0" stroke="#fff" stroke-width="0.8"/>
<path d="M82.3 669 L82.3 730 A11.9 11.9 0 0 1 58.5 730 L58.5 722.6" stroke="#000" stroke-width="9.8" fill="none" stroke-linecap="butt"/>
<path d="M82.3 669 L82.3 730 A11.9 11.9 0 0 1 58.5 730 L58.5 722.6" stroke="#fff" stroke-width="5.6" fill="none" stroke-linecap="butt"/>
<path d="M82.3 669 L82.3 730 A11.9 11.9 0 0 1 58.5 730 L58.5 722.6" stroke="#d4d4d4" stroke-width="2.2" fill="none" stroke-linecap="butt"/>
<line x1="53.8" y1="722.6" x2="63.2" y2="722.6" stroke="#000" stroke-width="1.6"/>
<rect x="78.0" y="676.0" width="8.6" height="16.0" rx="0" stroke="#000" stroke-width="1.9" fill="#e4e4e4"/>
<rect x="76.3" y="666.9" width="12.0" height="9.4" rx="0" stroke="#000" stroke-width="1.8" fill="#e4e4e4"/>
<line x1="79.5" y1="666.9" x2="79.5" y2="676.0" stroke="#000" stroke-width="1.0"/>
<line x1="85.5" y1="666.9" x2="85.5" y2="676.0" stroke="#000" stroke-width="1.0"/>
<line x1="78.3" y1="683.0" x2="86.3" y2="683.0" stroke="#000" stroke-width="1.6"/>
<path d="M177.3 669 L177.3 730 A11.9 11.9 0 0 1 153.5 730 L153.5 722.6" stroke="#000" stroke-width="9.8" fill="none" stroke-linecap="butt"/>
<path d="M177.3 669 L177.3 730 A11.9 11.9 0 0 1 153.5 730 L153.5 722.6" stroke="#fff" stroke-width="5.6" fill="none" stroke-linecap="butt"/>
<path d="M177.3 669 L177.3 730 A11.9 11.9 0 0 1 153.5 730 L153.5 722.6" stroke="#d4d4d4" stroke-width="2.2" fill="none" stroke-linecap="butt"/>
<line x1="148.8" y1="722.6" x2="158.2" y2="722.6" stroke="#000" stroke-width="1.6"/>
<rect x="173.0" y="676.0" width="8.6" height="16.0" rx="0" stroke="#000" stroke-width="1.9" fill="#e4e4e4"/>
<rect x="171.3" y="666.9" width="12.0" height="9.4" rx="0" stroke="#000" stroke-width="1.8" fill="#e4e4e4"/>
<line x1="174.5" y1="666.9" x2="174.5" y2="676.0" stroke="#000" stroke-width="1.0"/>
<line x1="180.5" y1="666.9" x2="180.5" y2="676.0" stroke="#000" stroke-width="1.0"/>
<line x1="173.3" y1="683.0" x2="181.3" y2="683.0" stroke="#000" stroke-width="1.6"/>
<line x1="220.2" y1="819.5" x2="287.0" y2="819.5" stroke="#000" stroke-width="1.2"/>
<line x1="281.5" y1="692.8" x2="281.5" y2="819.4" stroke="#000" stroke-width="1.2"/>
<polygon points="281.3,692.8 283.8,709.8 278.8,709.8" fill="#000"/>
<polygon points="281.3,819.4 278.8,802.4 283.8,802.4" fill="#000"/>
<text x="285.6" y="757.0" font-size="12.8" text-anchor="middle" font-weight="normal" transform="rotate(90 285.6 757.0)" textLength="18.5" lengthAdjust="spacingAndGlyphs" stroke="#fff" stroke-width="0.15">400</text>
</g>
</svg>
</body></html>
